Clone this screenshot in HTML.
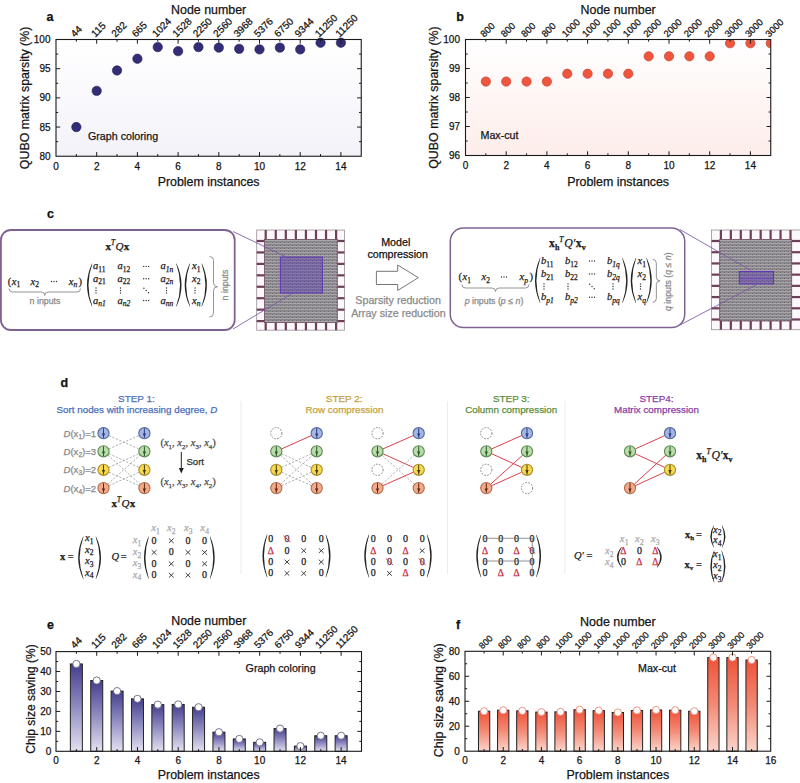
<!DOCTYPE html><html><head><meta charset="utf-8"><style>html,body{margin:0;padding:0;background:#fff;width:800px;height:783px;overflow:hidden}svg{display:block;font-family:"Liberation Sans",sans-serif}</style></head><body>
<svg width="800" height="783" viewBox="0 0 800 783">
<defs>
<linearGradient id="ga" x1="0" y1="0" x2="0" y2="1"><stop offset="0" stop-color="#ffffff"/><stop offset="1" stop-color="#f3f2f9"/></linearGradient>
<linearGradient id="gb" x1="0" y1="0" x2="0" y2="1"><stop offset="0" stop-color="#ffffff"/><stop offset="1" stop-color="#fdedea"/></linearGradient>
<linearGradient id="ge" x1="0" y1="0" x2="0" y2="1"><stop offset="0" stop-color="#ffffff"/><stop offset="1" stop-color="#ffffff"/></linearGradient>
<linearGradient id="barE" x1="0" y1="0" x2="0" y2="1"><stop offset="0" stop-color="#443e8c"/><stop offset="0.45" stop-color="#8985bd"/><stop offset="1" stop-color="#e3e1f1"/></linearGradient>
<linearGradient id="barF" x1="0" y1="0" x2="0" y2="1"><stop offset="0" stop-color="#ee5238"/><stop offset="0.5" stop-color="#f38a76"/><stop offset="1" stop-color="#fbd5cb"/></linearGradient>
<pattern id="chipPat" width="4" height="3" patternUnits="userSpaceOnUse"><rect width="4" height="3" fill="#8f8c8f"/><rect width="4" height="1" fill="#a9a6a8"/><rect x="0" y="2" width="1" height="1" fill="#6a6570"/><rect x="2" y="1" width="1" height="1" fill="#7b7580"/></pattern>
<clipPath id="clipb"><rect x="465.5" y="39.5" width="305.25" height="116"/></clipPath>
</defs>
<rect x="56" y="39.5" width="305.25" height="116.75" fill="url(#ga)"/>
<circle cx="76.35" cy="127.06" r="4.7" fill="#322d74" stroke="#252059" stroke-width="0.6"/>
<circle cx="96.7" cy="90.87" r="4.7" fill="#322d74" stroke="#252059" stroke-width="0.6"/>
<circle cx="117.05" cy="70.44" r="4.7" fill="#322d74" stroke="#252059" stroke-width="0.6"/>
<circle cx="137.4" cy="58.76" r="4.7" fill="#322d74" stroke="#252059" stroke-width="0.6"/>
<circle cx="157.75" cy="47.09" r="4.7" fill="#322d74" stroke="#252059" stroke-width="0.6"/>
<circle cx="178.1" cy="51.17" r="4.7" fill="#322d74" stroke="#252059" stroke-width="0.6"/>
<circle cx="198.45" cy="47.09" r="4.7" fill="#322d74" stroke="#252059" stroke-width="0.6"/>
<circle cx="218.8" cy="47.67" r="4.7" fill="#322d74" stroke="#252059" stroke-width="0.6"/>
<circle cx="239.15" cy="48.84" r="4.7" fill="#322d74" stroke="#252059" stroke-width="0.6"/>
<circle cx="259.5" cy="49.42" r="4.7" fill="#322d74" stroke="#252059" stroke-width="0.6"/>
<circle cx="279.85" cy="47.67" r="4.7" fill="#322d74" stroke="#252059" stroke-width="0.6"/>
<circle cx="300.2" cy="49.42" r="4.7" fill="#322d74" stroke="#252059" stroke-width="0.6"/>
<circle cx="320.55" cy="42.71" r="4.7" fill="#322d74" stroke="#252059" stroke-width="0.6"/>
<circle cx="340.9" cy="42.71" r="4.7" fill="#322d74" stroke="#252059" stroke-width="0.6"/>
<path d="M76.35 156.25v-2.2M76.35 39.5v2.2M96.7 156.25v-4.2M96.7 39.5v4.2M117.05 156.25v-2.2M117.05 39.5v2.2M137.4 156.25v-4.2M137.4 39.5v4.2M157.75 156.25v-2.2M157.75 39.5v2.2M178.1 156.25v-4.2M178.1 39.5v4.2M198.45 156.25v-2.2M198.45 39.5v2.2M218.8 156.25v-4.2M218.8 39.5v4.2M239.15 156.25v-2.2M239.15 39.5v2.2M259.5 156.25v-4.2M259.5 39.5v4.2M279.85 156.25v-2.2M279.85 39.5v2.2M300.2 156.25v-4.2M300.2 39.5v4.2M320.55 156.25v-2.2M320.55 39.5v2.2M340.9 156.25v-4.2M340.9 39.5v4.2M56 141.66h2.2M361.25 141.66h-2.2M56 127.06h4.2M361.25 127.06h-4.2M56 112.47h2.2M361.25 112.47h-2.2M56 97.88h4.2M361.25 97.88h-4.2M56 83.28h2.2M361.25 83.28h-2.2M56 68.69h4.2M361.25 68.69h-4.2M56 54.09h2.2M361.25 54.09h-2.2" stroke="#1a1a1a" stroke-width="1" fill="none"/><rect x="56" y="39.5" width="305.25" height="116.75" fill="none" stroke="#1a1a1a" stroke-width="1.1"/>
<text x="50.5" y="159.85" font-size="10" text-anchor="end" fill="#151515"  stroke="#151515" stroke-width="0.25">80</text>
<text x="50.5" y="130.66" font-size="10" text-anchor="end" fill="#151515"  stroke="#151515" stroke-width="0.25">85</text>
<text x="50.5" y="101.47" font-size="10" text-anchor="end" fill="#151515"  stroke="#151515" stroke-width="0.25">90</text>
<text x="50.5" y="72.29" font-size="10" text-anchor="end" fill="#151515"  stroke="#151515" stroke-width="0.25">95</text>
<text x="50.5" y="43.1" font-size="10" text-anchor="end" fill="#151515"  stroke="#151515" stroke-width="0.25">100</text>
<text x="56" y="169.65" font-size="10" text-anchor="middle" fill="#151515"  stroke="#151515" stroke-width="0.25">0</text>
<text x="96.7" y="169.65" font-size="10" text-anchor="middle" fill="#151515"  stroke="#151515" stroke-width="0.25">2</text>
<text x="137.4" y="169.65" font-size="10" text-anchor="middle" fill="#151515"  stroke="#151515" stroke-width="0.25">4</text>
<text x="178.1" y="169.65" font-size="10" text-anchor="middle" fill="#151515"  stroke="#151515" stroke-width="0.25">6</text>
<text x="218.8" y="169.65" font-size="10" text-anchor="middle" fill="#151515"  stroke="#151515" stroke-width="0.25">8</text>
<text x="259.5" y="169.65" font-size="10" text-anchor="middle" fill="#151515"  stroke="#151515" stroke-width="0.25">10</text>
<text x="300.2" y="169.65" font-size="10" text-anchor="middle" fill="#151515"  stroke="#151515" stroke-width="0.25">12</text>
<text x="340.9" y="169.65" font-size="10" text-anchor="middle" fill="#151515"  stroke="#151515" stroke-width="0.25">14</text>
<text x="74.85" y="37.7" font-size="10" fill="#151515" transform="rotate(-45 74.85 37.7)" stroke="#151515" stroke-width="0.25">44</text>
<text x="95.2" y="37.7" font-size="10" fill="#151515" transform="rotate(-45 95.2 37.7)" stroke="#151515" stroke-width="0.25">115</text>
<text x="115.55" y="37.7" font-size="10" fill="#151515" transform="rotate(-45 115.55 37.7)" stroke="#151515" stroke-width="0.25">282</text>
<text x="135.9" y="37.7" font-size="10" fill="#151515" transform="rotate(-45 135.9 37.7)" stroke="#151515" stroke-width="0.25">665</text>
<text x="156.25" y="37.7" font-size="10" fill="#151515" transform="rotate(-45 156.25 37.7)" stroke="#151515" stroke-width="0.25">1024</text>
<text x="176.6" y="37.7" font-size="10" fill="#151515" transform="rotate(-45 176.6 37.7)" stroke="#151515" stroke-width="0.25">1528</text>
<text x="196.95" y="37.7" font-size="10" fill="#151515" transform="rotate(-45 196.95 37.7)" stroke="#151515" stroke-width="0.25">2250</text>
<text x="217.3" y="37.7" font-size="10" fill="#151515" transform="rotate(-45 217.3 37.7)" stroke="#151515" stroke-width="0.25">2560</text>
<text x="237.65" y="37.7" font-size="10" fill="#151515" transform="rotate(-45 237.65 37.7)" stroke="#151515" stroke-width="0.25">3968</text>
<text x="258" y="37.7" font-size="10" fill="#151515" transform="rotate(-45 258 37.7)" stroke="#151515" stroke-width="0.25">5376</text>
<text x="278.35" y="37.7" font-size="10" fill="#151515" transform="rotate(-45 278.35 37.7)" stroke="#151515" stroke-width="0.25">6750</text>
<text x="298.7" y="37.7" font-size="10" fill="#151515" transform="rotate(-45 298.7 37.7)" stroke="#151515" stroke-width="0.25">9344</text>
<text x="319.05" y="37.7" font-size="10" fill="#151515" transform="rotate(-45 319.05 37.7)" stroke="#151515" stroke-width="0.25">11250</text>
<text x="339.4" y="37.7" font-size="10" fill="#151515" transform="rotate(-45 339.4 37.7)" stroke="#151515" stroke-width="0.25">11250</text>
<text x="208.62" y="13.5" font-size="12.4" text-anchor="middle" fill="#151515"  stroke="#151515" stroke-width="0.25">Node number</text>
<text x="208.62" y="186" font-size="12.4" text-anchor="middle" fill="#151515"  stroke="#151515" stroke-width="0.25">Problem instances</text>
<text x="29" y="97.88" font-size="12.4" text-anchor="middle" fill="#151515" transform="rotate(-90 29 97.88)" stroke="#151515" stroke-width="0.25">QUBO matrix sparsity (%)</text>
<text x="46.5" y="20.7" font-size="12.5" font-weight="bold" fill="#111" stroke="#111" stroke-width="0.25">a</text>
<text x="88" y="139.6" font-size="10.7" text-anchor="start" fill="#151515"  stroke="#151515" stroke-width="0.25">Graph coloring</text>
<rect x="465.5" y="39.5" width="305.25" height="116" fill="url(#gb)"/>
<g clip-path="url(#clipb)">
<circle cx="485.85" cy="81.55" r="4.6" fill="#f0553d" stroke="#c9493a" stroke-width="0.8"/>
<circle cx="506.2" cy="81.55" r="4.6" fill="#f0553d" stroke="#c9493a" stroke-width="0.8"/>
<circle cx="526.55" cy="81.55" r="4.6" fill="#f0553d" stroke="#c9493a" stroke-width="0.8"/>
<circle cx="546.9" cy="81.55" r="4.6" fill="#f0553d" stroke="#c9493a" stroke-width="0.8"/>
<circle cx="567.25" cy="73.72" r="4.6" fill="#f0553d" stroke="#c9493a" stroke-width="0.8"/>
<circle cx="587.6" cy="73.72" r="4.6" fill="#f0553d" stroke="#c9493a" stroke-width="0.8"/>
<circle cx="607.95" cy="73.72" r="4.6" fill="#f0553d" stroke="#c9493a" stroke-width="0.8"/>
<circle cx="628.3" cy="73.72" r="4.6" fill="#f0553d" stroke="#c9493a" stroke-width="0.8"/>
<circle cx="648.65" cy="56.32" r="4.6" fill="#f0553d" stroke="#c9493a" stroke-width="0.8"/>
<circle cx="669" cy="56.32" r="4.6" fill="#f0553d" stroke="#c9493a" stroke-width="0.8"/>
<circle cx="689.35" cy="56.32" r="4.6" fill="#f0553d" stroke="#c9493a" stroke-width="0.8"/>
<circle cx="709.7" cy="56.32" r="4.6" fill="#f0553d" stroke="#c9493a" stroke-width="0.8"/>
<circle cx="730.05" cy="43.27" r="4.6" fill="#f0553d" stroke="#c9493a" stroke-width="0.8"/>
<circle cx="750.4" cy="43.27" r="4.6" fill="#f0553d" stroke="#c9493a" stroke-width="0.8"/>
<circle cx="770.75" cy="43.27" r="4.6" fill="#f0553d" stroke="#c9493a" stroke-width="0.8"/>
</g>
<path d="M485.85 155.5v-2.2M485.85 39.5v2.2M506.2 155.5v-4.2M506.2 39.5v4.2M526.55 155.5v-2.2M526.55 39.5v2.2M546.9 155.5v-4.2M546.9 39.5v4.2M567.25 155.5v-2.2M567.25 39.5v2.2M587.6 155.5v-4.2M587.6 39.5v4.2M607.95 155.5v-2.2M607.95 39.5v2.2M628.3 155.5v-4.2M628.3 39.5v4.2M648.65 155.5v-2.2M648.65 39.5v2.2M669 155.5v-4.2M669 39.5v4.2M689.35 155.5v-2.2M689.35 39.5v2.2M709.7 155.5v-4.2M709.7 39.5v4.2M730.05 155.5v-2.2M730.05 39.5v2.2M750.4 155.5v-4.2M750.4 39.5v4.2M465.5 141h2.2M770.75 141h-2.2M465.5 126.5h4.2M770.75 126.5h-4.2M465.5 112h2.2M770.75 112h-2.2M465.5 97.5h4.2M770.75 97.5h-4.2M465.5 83h2.2M770.75 83h-2.2M465.5 68.5h4.2M770.75 68.5h-4.2M465.5 54h2.2M770.75 54h-2.2" stroke="#1a1a1a" stroke-width="1" fill="none"/><rect x="465.5" y="39.5" width="305.25" height="116" fill="none" stroke="#1a1a1a" stroke-width="1.1"/>
<text x="460" y="159.1" font-size="10" text-anchor="end" fill="#151515"  stroke="#151515" stroke-width="0.25">96</text>
<text x="460" y="130.1" font-size="10" text-anchor="end" fill="#151515"  stroke="#151515" stroke-width="0.25">97</text>
<text x="460" y="101.1" font-size="10" text-anchor="end" fill="#151515"  stroke="#151515" stroke-width="0.25">98</text>
<text x="460" y="72.1" font-size="10" text-anchor="end" fill="#151515"  stroke="#151515" stroke-width="0.25">99</text>
<text x="460" y="43.1" font-size="10" text-anchor="end" fill="#151515"  stroke="#151515" stroke-width="0.25">100</text>
<text x="465.5" y="168.9" font-size="10" text-anchor="middle" fill="#151515"  stroke="#151515" stroke-width="0.25">0</text>
<text x="506.2" y="168.9" font-size="10" text-anchor="middle" fill="#151515"  stroke="#151515" stroke-width="0.25">2</text>
<text x="546.9" y="168.9" font-size="10" text-anchor="middle" fill="#151515"  stroke="#151515" stroke-width="0.25">4</text>
<text x="587.6" y="168.9" font-size="10" text-anchor="middle" fill="#151515"  stroke="#151515" stroke-width="0.25">6</text>
<text x="628.3" y="168.9" font-size="10" text-anchor="middle" fill="#151515"  stroke="#151515" stroke-width="0.25">8</text>
<text x="669" y="168.9" font-size="10" text-anchor="middle" fill="#151515"  stroke="#151515" stroke-width="0.25">10</text>
<text x="709.7" y="168.9" font-size="10" text-anchor="middle" fill="#151515"  stroke="#151515" stroke-width="0.25">12</text>
<text x="750.4" y="168.9" font-size="10" text-anchor="middle" fill="#151515"  stroke="#151515" stroke-width="0.25">14</text>
<text x="484.35" y="37.7" font-size="9.5" fill="#151515" transform="rotate(-45 484.35 37.7)" stroke="#151515" stroke-width="0.25">800</text>
<text x="504.7" y="37.7" font-size="9.5" fill="#151515" transform="rotate(-45 504.7 37.7)" stroke="#151515" stroke-width="0.25">800</text>
<text x="525.05" y="37.7" font-size="9.5" fill="#151515" transform="rotate(-45 525.05 37.7)" stroke="#151515" stroke-width="0.25">800</text>
<text x="545.4" y="37.7" font-size="9.5" fill="#151515" transform="rotate(-45 545.4 37.7)" stroke="#151515" stroke-width="0.25">800</text>
<text x="565.75" y="37.7" font-size="9.5" fill="#151515" transform="rotate(-45 565.75 37.7)" stroke="#151515" stroke-width="0.25">1000</text>
<text x="586.1" y="37.7" font-size="9.5" fill="#151515" transform="rotate(-45 586.1 37.7)" stroke="#151515" stroke-width="0.25">1000</text>
<text x="606.45" y="37.7" font-size="9.5" fill="#151515" transform="rotate(-45 606.45 37.7)" stroke="#151515" stroke-width="0.25">1000</text>
<text x="626.8" y="37.7" font-size="9.5" fill="#151515" transform="rotate(-45 626.8 37.7)" stroke="#151515" stroke-width="0.25">1000</text>
<text x="647.15" y="37.7" font-size="9.5" fill="#151515" transform="rotate(-45 647.15 37.7)" stroke="#151515" stroke-width="0.25">2000</text>
<text x="667.5" y="37.7" font-size="9.5" fill="#151515" transform="rotate(-45 667.5 37.7)" stroke="#151515" stroke-width="0.25">2000</text>
<text x="687.85" y="37.7" font-size="9.5" fill="#151515" transform="rotate(-45 687.85 37.7)" stroke="#151515" stroke-width="0.25">2000</text>
<text x="708.2" y="37.7" font-size="9.5" fill="#151515" transform="rotate(-45 708.2 37.7)" stroke="#151515" stroke-width="0.25">2000</text>
<text x="728.55" y="37.7" font-size="9.5" fill="#151515" transform="rotate(-45 728.55 37.7)" stroke="#151515" stroke-width="0.25">3000</text>
<text x="748.9" y="37.7" font-size="9.5" fill="#151515" transform="rotate(-45 748.9 37.7)" stroke="#151515" stroke-width="0.25">3000</text>
<text x="769.25" y="37.7" font-size="9.5" fill="#151515" transform="rotate(-45 769.25 37.7)" stroke="#151515" stroke-width="0.25">3000</text>
<text x="618.12" y="13.5" font-size="12.4" text-anchor="middle" fill="#151515"  stroke="#151515" stroke-width="0.25">Node number</text>
<text x="618.12" y="186" font-size="12.4" text-anchor="middle" fill="#151515"  stroke="#151515" stroke-width="0.25">Problem instances</text>
<text x="438" y="97.5" font-size="12.4" text-anchor="middle" fill="#151515" transform="rotate(-90 438 97.5)" stroke="#151515" stroke-width="0.25">QUBO matrix sparsity (%)</text>
<text x="456.3" y="20.7" font-size="12.5" font-weight="bold" fill="#111" stroke="#111" stroke-width="0.25">b</text>
<text x="480.5" y="139.3" font-size="10.7" text-anchor="start" fill="#151515"  stroke="#151515" stroke-width="0.25">Max-cut</text>
<rect x="56" y="651.6" width="305.5" height="99.7" fill="url(#ge)"/>
<rect x="70.37" y="663.96" width="12" height="87.34" fill="url(#barE)" stroke="#222" stroke-width="1"/>
<rect x="90.73" y="680.51" width="12" height="70.79" fill="url(#barE)" stroke="#222" stroke-width="1"/>
<rect x="111.1" y="691.08" width="12" height="60.22" fill="url(#barE)" stroke="#222" stroke-width="1"/>
<rect x="131.47" y="698.86" width="12" height="52.44" fill="url(#barE)" stroke="#222" stroke-width="1"/>
<rect x="151.83" y="704.64" width="12" height="46.66" fill="url(#barE)" stroke="#222" stroke-width="1"/>
<rect x="172.2" y="704.44" width="12" height="46.86" fill="url(#barE)" stroke="#222" stroke-width="1"/>
<rect x="192.57" y="707.23" width="12" height="44.07" fill="url(#barE)" stroke="#222" stroke-width="1"/>
<rect x="212.93" y="732.16" width="12" height="19.14" fill="url(#barE)" stroke="#222" stroke-width="1"/>
<rect x="233.3" y="738.94" width="12" height="12.36" fill="url(#barE)" stroke="#222" stroke-width="1"/>
<rect x="253.67" y="742.33" width="12" height="8.97" fill="url(#barE)" stroke="#222" stroke-width="1"/>
<rect x="274.03" y="728.57" width="12" height="22.73" fill="url(#barE)" stroke="#222" stroke-width="1"/>
<rect x="294.4" y="746.12" width="12" height="5.18" fill="url(#barE)" stroke="#222" stroke-width="1"/>
<rect x="314.77" y="735.75" width="12" height="15.55" fill="url(#barE)" stroke="#222" stroke-width="1"/>
<rect x="335.13" y="735.75" width="12" height="15.55" fill="url(#barE)" stroke="#222" stroke-width="1"/>
<circle cx="76.37" cy="663.96" r="3.6" fill="#fff" stroke="#6a6780" stroke-width="0.9"/>
<circle cx="96.73" cy="680.51" r="3.6" fill="#fff" stroke="#6a6780" stroke-width="0.9"/>
<circle cx="117.1" cy="691.08" r="3.6" fill="#fff" stroke="#6a6780" stroke-width="0.9"/>
<circle cx="137.47" cy="698.86" r="3.6" fill="#fff" stroke="#6a6780" stroke-width="0.9"/>
<circle cx="157.83" cy="704.64" r="3.6" fill="#fff" stroke="#6a6780" stroke-width="0.9"/>
<circle cx="178.2" cy="704.44" r="3.6" fill="#fff" stroke="#6a6780" stroke-width="0.9"/>
<circle cx="198.57" cy="707.23" r="3.6" fill="#fff" stroke="#6a6780" stroke-width="0.9"/>
<circle cx="218.93" cy="732.16" r="3.6" fill="#fff" stroke="#6a6780" stroke-width="0.9"/>
<circle cx="239.3" cy="738.94" r="3.6" fill="#fff" stroke="#6a6780" stroke-width="0.9"/>
<circle cx="259.67" cy="742.33" r="3.6" fill="#fff" stroke="#6a6780" stroke-width="0.9"/>
<circle cx="280.03" cy="728.57" r="3.6" fill="#fff" stroke="#6a6780" stroke-width="0.9"/>
<circle cx="300.4" cy="746.12" r="3.6" fill="#fff" stroke="#6a6780" stroke-width="0.9"/>
<circle cx="320.77" cy="735.75" r="3.6" fill="#fff" stroke="#6a6780" stroke-width="0.9"/>
<circle cx="341.13" cy="735.75" r="3.6" fill="#fff" stroke="#6a6780" stroke-width="0.9"/>
<path d="M76.37 751.3v-2.2M76.37 651.6v2.2M96.73 751.3v-4.2M96.73 651.6v4.2M117.1 751.3v-2.2M117.1 651.6v2.2M137.47 751.3v-4.2M137.47 651.6v4.2M157.83 751.3v-2.2M157.83 651.6v2.2M178.2 751.3v-4.2M178.2 651.6v4.2M198.57 751.3v-2.2M198.57 651.6v2.2M218.93 751.3v-4.2M218.93 651.6v4.2M239.3 751.3v-2.2M239.3 651.6v2.2M259.67 751.3v-4.2M259.67 651.6v4.2M280.03 751.3v-2.2M280.03 651.6v2.2M300.4 751.3v-4.2M300.4 651.6v4.2M320.77 751.3v-2.2M320.77 651.6v2.2M341.13 751.3v-4.2M341.13 651.6v4.2M56 741.33h2.2M361.5 741.33h-2.2M56 731.36h4.2M361.5 731.36h-4.2M56 721.39h2.2M361.5 721.39h-2.2M56 711.42h4.2M361.5 711.42h-4.2M56 701.45h2.2M361.5 701.45h-2.2M56 691.48h4.2M361.5 691.48h-4.2M56 681.51h2.2M361.5 681.51h-2.2M56 671.54h4.2M361.5 671.54h-4.2M56 661.57h2.2M361.5 661.57h-2.2" stroke="#1a1a1a" stroke-width="1" fill="none"/><rect x="56" y="651.6" width="305.5" height="99.7" fill="none" stroke="#1a1a1a" stroke-width="1.1"/>
<text x="51.4" y="754.9" font-size="10" text-anchor="end" fill="#151515"  stroke="#151515" stroke-width="0.25">0</text>
<text x="51.4" y="734.96" font-size="10" text-anchor="end" fill="#151515"  stroke="#151515" stroke-width="0.25">10</text>
<text x="51.4" y="715.02" font-size="10" text-anchor="end" fill="#151515"  stroke="#151515" stroke-width="0.25">20</text>
<text x="51.4" y="695.08" font-size="10" text-anchor="end" fill="#151515"  stroke="#151515" stroke-width="0.25">30</text>
<text x="51.4" y="675.14" font-size="10" text-anchor="end" fill="#151515"  stroke="#151515" stroke-width="0.25">40</text>
<text x="51.4" y="655.2" font-size="10" text-anchor="end" fill="#151515"  stroke="#151515" stroke-width="0.25">50</text>
<text x="56" y="764.3" font-size="10" text-anchor="middle" fill="#151515"  stroke="#151515" stroke-width="0.25">0</text>
<text x="96.73" y="764.3" font-size="10" text-anchor="middle" fill="#151515"  stroke="#151515" stroke-width="0.25">2</text>
<text x="137.47" y="764.3" font-size="10" text-anchor="middle" fill="#151515"  stroke="#151515" stroke-width="0.25">4</text>
<text x="178.2" y="764.3" font-size="10" text-anchor="middle" fill="#151515"  stroke="#151515" stroke-width="0.25">6</text>
<text x="218.93" y="764.3" font-size="10" text-anchor="middle" fill="#151515"  stroke="#151515" stroke-width="0.25">8</text>
<text x="259.67" y="764.3" font-size="10" text-anchor="middle" fill="#151515"  stroke="#151515" stroke-width="0.25">10</text>
<text x="300.4" y="764.3" font-size="10" text-anchor="middle" fill="#151515"  stroke="#151515" stroke-width="0.25">12</text>
<text x="341.13" y="764.3" font-size="10" text-anchor="middle" fill="#151515"  stroke="#151515" stroke-width="0.25">14</text>
<text x="74.87" y="649" font-size="10" fill="#151515" transform="rotate(-45 74.87 649)" stroke="#151515" stroke-width="0.25">44</text>
<text x="95.23" y="649" font-size="10" fill="#151515" transform="rotate(-45 95.23 649)" stroke="#151515" stroke-width="0.25">115</text>
<text x="115.6" y="649" font-size="10" fill="#151515" transform="rotate(-45 115.6 649)" stroke="#151515" stroke-width="0.25">282</text>
<text x="135.97" y="649" font-size="10" fill="#151515" transform="rotate(-45 135.97 649)" stroke="#151515" stroke-width="0.25">665</text>
<text x="156.33" y="649" font-size="10" fill="#151515" transform="rotate(-45 156.33 649)" stroke="#151515" stroke-width="0.25">1024</text>
<text x="176.7" y="649" font-size="10" fill="#151515" transform="rotate(-45 176.7 649)" stroke="#151515" stroke-width="0.25">1528</text>
<text x="197.07" y="649" font-size="10" fill="#151515" transform="rotate(-45 197.07 649)" stroke="#151515" stroke-width="0.25">2250</text>
<text x="217.43" y="649" font-size="10" fill="#151515" transform="rotate(-45 217.43 649)" stroke="#151515" stroke-width="0.25">2560</text>
<text x="237.8" y="649" font-size="10" fill="#151515" transform="rotate(-45 237.8 649)" stroke="#151515" stroke-width="0.25">3968</text>
<text x="258.17" y="649" font-size="10" fill="#151515" transform="rotate(-45 258.17 649)" stroke="#151515" stroke-width="0.25">5376</text>
<text x="278.53" y="649" font-size="10" fill="#151515" transform="rotate(-45 278.53 649)" stroke="#151515" stroke-width="0.25">6750</text>
<text x="298.9" y="649" font-size="10" fill="#151515" transform="rotate(-45 298.9 649)" stroke="#151515" stroke-width="0.25">9344</text>
<text x="319.27" y="649" font-size="10" fill="#151515" transform="rotate(-45 319.27 649)" stroke="#151515" stroke-width="0.25">11250</text>
<text x="339.63" y="649" font-size="10" fill="#151515" transform="rotate(-45 339.63 649)" stroke="#151515" stroke-width="0.25">11250</text>
<text x="208.75" y="625" font-size="12.4" text-anchor="middle" fill="#151515"  stroke="#151515" stroke-width="0.25">Node number</text>
<text x="208.75" y="779" font-size="12.4" text-anchor="middle" fill="#151515"  stroke="#151515" stroke-width="0.25">Problem instances</text>
<text x="34.6" y="699" font-size="12" text-anchor="middle" fill="#151515" transform="rotate(-90 34.6 699)" stroke="#151515" stroke-width="0.25">Chip size saving (%)</text>
<text x="47" y="628.7" font-size="12.5" font-weight="bold" fill="#111" stroke="#111" stroke-width="0.25">e</text>
<text x="245.6" y="672" font-size="10.7" text-anchor="start" fill="#151515"  stroke="#151515" stroke-width="0.25">Graph coloring</text>
<rect x="465" y="651.3" width="305.7" height="99.9" fill="url(#ge)"/>
<rect x="478.46" y="711.24" width="11.3" height="39.96" fill="url(#barF)" stroke="#222" stroke-width="1"/>
<rect x="497.56" y="710.24" width="11.3" height="40.96" fill="url(#barF)" stroke="#222" stroke-width="1"/>
<rect x="516.67" y="710.87" width="11.3" height="40.33" fill="url(#barF)" stroke="#222" stroke-width="1"/>
<rect x="535.77" y="712.11" width="11.3" height="39.09" fill="url(#barF)" stroke="#222" stroke-width="1"/>
<rect x="554.88" y="711.86" width="11.3" height="39.34" fill="url(#barF)" stroke="#222" stroke-width="1"/>
<rect x="573.99" y="709.74" width="11.3" height="41.46" fill="url(#barF)" stroke="#222" stroke-width="1"/>
<rect x="593.09" y="710.62" width="11.3" height="40.58" fill="url(#barF)" stroke="#222" stroke-width="1"/>
<rect x="612.2" y="712.49" width="11.3" height="38.71" fill="url(#barF)" stroke="#222" stroke-width="1"/>
<rect x="631.31" y="710.49" width="11.3" height="40.71" fill="url(#barF)" stroke="#222" stroke-width="1"/>
<rect x="650.41" y="709.99" width="11.3" height="41.21" fill="url(#barF)" stroke="#222" stroke-width="1"/>
<rect x="669.52" y="710.24" width="11.3" height="40.96" fill="url(#barF)" stroke="#222" stroke-width="1"/>
<rect x="688.63" y="711.24" width="11.3" height="39.96" fill="url(#barF)" stroke="#222" stroke-width="1"/>
<rect x="707.73" y="657.54" width="11.3" height="93.66" fill="url(#barF)" stroke="#222" stroke-width="1"/>
<rect x="726.84" y="657.54" width="11.3" height="93.66" fill="url(#barF)" stroke="#222" stroke-width="1"/>
<rect x="745.94" y="660.04" width="11.3" height="91.16" fill="url(#barF)" stroke="#222" stroke-width="1"/>
<circle cx="484.11" cy="711.24" r="3.6" fill="#fff" stroke="#ea8a76" stroke-width="0.9"/>
<circle cx="503.21" cy="710.24" r="3.6" fill="#fff" stroke="#ea8a76" stroke-width="0.9"/>
<circle cx="522.32" cy="710.87" r="3.6" fill="#fff" stroke="#ea8a76" stroke-width="0.9"/>
<circle cx="541.42" cy="712.11" r="3.6" fill="#fff" stroke="#ea8a76" stroke-width="0.9"/>
<circle cx="560.53" cy="711.86" r="3.6" fill="#fff" stroke="#ea8a76" stroke-width="0.9"/>
<circle cx="579.64" cy="709.74" r="3.6" fill="#fff" stroke="#ea8a76" stroke-width="0.9"/>
<circle cx="598.74" cy="710.62" r="3.6" fill="#fff" stroke="#ea8a76" stroke-width="0.9"/>
<circle cx="617.85" cy="712.49" r="3.6" fill="#fff" stroke="#ea8a76" stroke-width="0.9"/>
<circle cx="636.96" cy="710.49" r="3.6" fill="#fff" stroke="#ea8a76" stroke-width="0.9"/>
<circle cx="656.06" cy="709.99" r="3.6" fill="#fff" stroke="#ea8a76" stroke-width="0.9"/>
<circle cx="675.17" cy="710.24" r="3.6" fill="#fff" stroke="#ea8a76" stroke-width="0.9"/>
<circle cx="694.28" cy="711.24" r="3.6" fill="#fff" stroke="#ea8a76" stroke-width="0.9"/>
<circle cx="713.38" cy="657.54" r="3.6" fill="#fff" stroke="#ea8a76" stroke-width="0.9"/>
<circle cx="732.49" cy="657.54" r="3.6" fill="#fff" stroke="#ea8a76" stroke-width="0.9"/>
<circle cx="751.59" cy="660.04" r="3.6" fill="#fff" stroke="#ea8a76" stroke-width="0.9"/>
<path d="M484.11 751.2v-2.2M484.11 651.3v2.2M503.21 751.2v-4.2M503.21 651.3v4.2M522.32 751.2v-2.2M522.32 651.3v2.2M541.42 751.2v-4.2M541.42 651.3v4.2M560.53 751.2v-2.2M560.53 651.3v2.2M579.64 751.2v-4.2M579.64 651.3v4.2M598.74 751.2v-2.2M598.74 651.3v2.2M617.85 751.2v-4.2M617.85 651.3v4.2M636.96 751.2v-2.2M636.96 651.3v2.2M656.06 751.2v-4.2M656.06 651.3v4.2M675.17 751.2v-2.2M675.17 651.3v2.2M694.28 751.2v-4.2M694.28 651.3v4.2M713.38 751.2v-2.2M713.38 651.3v2.2M732.49 751.2v-4.2M732.49 651.3v4.2M751.59 751.2v-2.2M751.59 651.3v2.2M465 738.71h2.2M770.7 738.71h-2.2M465 726.23h4.2M770.7 726.23h-4.2M465 713.74h2.2M770.7 713.74h-2.2M465 701.25h4.2M770.7 701.25h-4.2M465 688.76h2.2M770.7 688.76h-2.2M465 676.27h4.2M770.7 676.27h-4.2M465 663.79h2.2M770.7 663.79h-2.2" stroke="#1a1a1a" stroke-width="1" fill="none"/><rect x="465" y="651.3" width="305.7" height="99.9" fill="none" stroke="#1a1a1a" stroke-width="1.1"/>
<text x="459.8" y="754.8" font-size="10" text-anchor="end" fill="#151515"  stroke="#151515" stroke-width="0.25">0</text>
<text x="459.8" y="729.83" font-size="10" text-anchor="end" fill="#151515"  stroke="#151515" stroke-width="0.25">20</text>
<text x="459.8" y="704.85" font-size="10" text-anchor="end" fill="#151515"  stroke="#151515" stroke-width="0.25">40</text>
<text x="459.8" y="679.88" font-size="10" text-anchor="end" fill="#151515"  stroke="#151515" stroke-width="0.25">60</text>
<text x="459.8" y="654.9" font-size="10" text-anchor="end" fill="#151515"  stroke="#151515" stroke-width="0.25">80</text>
<text x="465" y="764.2" font-size="10" text-anchor="middle" fill="#151515"  stroke="#151515" stroke-width="0.25">0</text>
<text x="503.21" y="764.2" font-size="10" text-anchor="middle" fill="#151515"  stroke="#151515" stroke-width="0.25">2</text>
<text x="541.42" y="764.2" font-size="10" text-anchor="middle" fill="#151515"  stroke="#151515" stroke-width="0.25">4</text>
<text x="579.64" y="764.2" font-size="10" text-anchor="middle" fill="#151515"  stroke="#151515" stroke-width="0.25">6</text>
<text x="617.85" y="764.2" font-size="10" text-anchor="middle" fill="#151515"  stroke="#151515" stroke-width="0.25">8</text>
<text x="656.06" y="764.2" font-size="10" text-anchor="middle" fill="#151515"  stroke="#151515" stroke-width="0.25">10</text>
<text x="694.28" y="764.2" font-size="10" text-anchor="middle" fill="#151515"  stroke="#151515" stroke-width="0.25">12</text>
<text x="732.49" y="764.2" font-size="10" text-anchor="middle" fill="#151515"  stroke="#151515" stroke-width="0.25">14</text>
<text x="770.7" y="764.2" font-size="10" text-anchor="middle" fill="#151515"  stroke="#151515" stroke-width="0.25">16</text>
<text x="482.61" y="649.5" font-size="9" fill="#151515" transform="rotate(-45 482.61 649.5)" stroke="#151515" stroke-width="0.25">800</text>
<text x="501.71" y="649.5" font-size="9" fill="#151515" transform="rotate(-45 501.71 649.5)" stroke="#151515" stroke-width="0.25">800</text>
<text x="520.82" y="649.5" font-size="9" fill="#151515" transform="rotate(-45 520.82 649.5)" stroke="#151515" stroke-width="0.25">800</text>
<text x="539.92" y="649.5" font-size="9" fill="#151515" transform="rotate(-45 539.92 649.5)" stroke="#151515" stroke-width="0.25">800</text>
<text x="559.03" y="649.5" font-size="9" fill="#151515" transform="rotate(-45 559.03 649.5)" stroke="#151515" stroke-width="0.25">1000</text>
<text x="578.14" y="649.5" font-size="9" fill="#151515" transform="rotate(-45 578.14 649.5)" stroke="#151515" stroke-width="0.25">1000</text>
<text x="597.24" y="649.5" font-size="9" fill="#151515" transform="rotate(-45 597.24 649.5)" stroke="#151515" stroke-width="0.25">1000</text>
<text x="616.35" y="649.5" font-size="9" fill="#151515" transform="rotate(-45 616.35 649.5)" stroke="#151515" stroke-width="0.25">1000</text>
<text x="635.46" y="649.5" font-size="9" fill="#151515" transform="rotate(-45 635.46 649.5)" stroke="#151515" stroke-width="0.25">2000</text>
<text x="654.56" y="649.5" font-size="9" fill="#151515" transform="rotate(-45 654.56 649.5)" stroke="#151515" stroke-width="0.25">2000</text>
<text x="673.67" y="649.5" font-size="9" fill="#151515" transform="rotate(-45 673.67 649.5)" stroke="#151515" stroke-width="0.25">2000</text>
<text x="692.78" y="649.5" font-size="9" fill="#151515" transform="rotate(-45 692.78 649.5)" stroke="#151515" stroke-width="0.25">2000</text>
<text x="711.88" y="649.5" font-size="9" fill="#151515" transform="rotate(-45 711.88 649.5)" stroke="#151515" stroke-width="0.25">3000</text>
<text x="730.99" y="649.5" font-size="9" fill="#151515" transform="rotate(-45 730.99 649.5)" stroke="#151515" stroke-width="0.25">3000</text>
<text x="750.09" y="649.5" font-size="9" fill="#151515" transform="rotate(-45 750.09 649.5)" stroke="#151515" stroke-width="0.25">3000</text>
<text x="617.85" y="626" font-size="12.5" text-anchor="middle" fill="#151515"  stroke="#151515" stroke-width="0.25">Node number</text>
<text x="617.85" y="779" font-size="12.5" text-anchor="middle" fill="#151515"  stroke="#151515" stroke-width="0.25">Problem instances</text>
<text x="442.9" y="700.2" font-size="12.5" text-anchor="middle" fill="#151515" transform="rotate(-90 442.9 700.2)" stroke="#151515" stroke-width="0.25">Chip size saving (%)</text>
<text x="456" y="628.5" font-size="12.5" font-weight="bold" fill="#111" stroke="#111" stroke-width="0.25">f</text>
<text x="638" y="672" font-size="10.7" text-anchor="start" fill="#151515"  stroke="#151515" stroke-width="0.25">Max-cut</text>
<text x="47" y="217.5" font-size="12.5" font-weight="bold" fill="#111" stroke="#111" stroke-width="0.25">c</text><rect x="0.9" y="230" width="233.8" height="100" rx="10" fill="#fff" stroke="#7f6291" stroke-width="1.8"/><rect x="450.3" y="228.1" width="234.4" height="99.5" rx="13" fill="#fff" stroke="#7f6291" stroke-width="1.5"/><text x="105.4" y="249.5" font-size="11" fill="#1a1a1a" font-family="Liberation Serif" font-weight="bold" stroke="#1a1a1a" stroke-width="0.25">x<tspan font-size="7.2" dy="-4.4" font-style="italic" font-weight="normal">T</tspan><tspan font-size="11" dy="4.4" dx="0.6" font-style="italic" font-weight="normal">Q</tspan><tspan dx="0.3">x</tspan></text><text x="7.8" y="284.5" font-size="10.5" fill="#222" text-anchor="start" font-family="Liberation Serif"  stroke="#222" stroke-width="0.25">(</text><text x="11.7" y="284.5" font-size="10.5" fill="#222" font-family="Liberation Serif" font-style="italic" stroke="#222" stroke-width="0.25">x</text><text x="16.56" y="287.1" font-size="7.56" fill="#222" font-family="Liberation Serif"  stroke="#222" stroke-width="0.25">1</text><text x="30.5" y="284.5" font-size="10.5" fill="#222" font-family="Liberation Serif" font-style="italic" stroke="#222" stroke-width="0.25">x</text><text x="35.36" y="287.1" font-size="7.56" fill="#222" font-family="Liberation Serif"  stroke="#222" stroke-width="0.25">2</text><circle cx="51.5" cy="281.5" r="0.7" fill="#333"/><circle cx="54" cy="281.5" r="0.7" fill="#333"/><circle cx="56.5" cy="281.5" r="0.7" fill="#333"/><text x="68.7" y="284.5" font-size="10.5" fill="#222" font-family="Liberation Serif" font-style="italic" stroke="#222" stroke-width="0.25">x</text><text x="73.56" y="287.1" font-size="7.56" fill="#222" font-family="Liberation Serif" font-style="italic" stroke="#222" stroke-width="0.25">n</text><text x="78.4" y="284.5" font-size="10.5" fill="#222" text-anchor="start" font-family="Liberation Serif"  stroke="#222" stroke-width="0.25">)</text><path d="M9 288.5Q9 292 12.5 292L41.25 292Q44.75 292 44.75 295.5Q44.75 292 48.25 292L77 292Q80.5 292 80.5 288.5" stroke="#888" stroke-width="0.9" fill="none"/><text x="45" y="304.4" font-size="8.8" fill="#8a8a8a" text-anchor="middle"   stroke="#8a8a8a" stroke-width="0.25">n inputs</text><path d="M92 263.5Q82 285 92 306.5L92.35 306.3Q84.55 285 92.35 263.7Z" fill="#222"/><path d="M176.5 263.5Q186.5 285 176.5 306.5L176.15 306.3Q183.95 285 176.15 263.7Z" fill="#222"/><text x="93.1" y="269.4" font-size="10.5" fill="#222" font-family="Liberation Serif" font-style="italic" stroke="#222" stroke-width="0.25">a<tspan font-size="7.5" dy="2.6" font-style="normal">11</tspan></text><text x="117.6" y="269.4" font-size="10.5" fill="#222" font-family="Liberation Serif" font-style="italic" stroke="#222" stroke-width="0.25">a<tspan font-size="7.5" dy="2.6" font-style="normal">12</tspan></text><circle cx="143.7" cy="266.4" r="0.7" fill="#333"/><circle cx="146.2" cy="266.4" r="0.7" fill="#333"/><circle cx="148.7" cy="266.4" r="0.7" fill="#333"/><text x="160.5" y="269.4" font-size="10.5" fill="#222" font-family="Liberation Serif" font-style="italic" stroke="#222" stroke-width="0.25">a<tspan font-size="7.5" dy="2.6" font-style="italic">1n</tspan></text><text x="93.1" y="281.8" font-size="10.5" fill="#222" font-family="Liberation Serif" font-style="italic" stroke="#222" stroke-width="0.25">a<tspan font-size="7.5" dy="2.6" font-style="normal">21</tspan></text><text x="117.6" y="281.8" font-size="10.5" fill="#222" font-family="Liberation Serif" font-style="italic" stroke="#222" stroke-width="0.25">a<tspan font-size="7.5" dy="2.6" font-style="normal">22</tspan></text><circle cx="143.7" cy="278.8" r="0.7" fill="#333"/><circle cx="146.2" cy="278.8" r="0.7" fill="#333"/><circle cx="148.7" cy="278.8" r="0.7" fill="#333"/><text x="160.5" y="281.8" font-size="10.5" fill="#222" font-family="Liberation Serif" font-style="italic" stroke="#222" stroke-width="0.25">a<tspan font-size="7.5" dy="2.6" font-style="italic">2n</tspan></text><text x="93.1" y="303.5" font-size="10.5" fill="#222" font-family="Liberation Serif" font-style="italic" stroke="#222" stroke-width="0.25">a<tspan font-size="7.5" dy="2.6" font-style="italic">n1</tspan></text><text x="117.6" y="303.5" font-size="10.5" fill="#222" font-family="Liberation Serif" font-style="italic" stroke="#222" stroke-width="0.25">a<tspan font-size="7.5" dy="2.6" font-style="italic">n2</tspan></text><circle cx="143.7" cy="300.5" r="0.7" fill="#333"/><circle cx="146.2" cy="300.5" r="0.7" fill="#333"/><circle cx="148.7" cy="300.5" r="0.7" fill="#333"/><text x="160.5" y="303.5" font-size="10.5" fill="#222" font-family="Liberation Serif" font-style="italic" stroke="#222" stroke-width="0.25">a<tspan font-size="7.5" dy="2.6" font-style="italic">nn</tspan></text><circle cx="96" cy="288" r="0.7" fill="#333"/><circle cx="96" cy="290.5" r="0.7" fill="#333"/><circle cx="96" cy="293" r="0.7" fill="#333"/><circle cx="120.5" cy="288" r="0.7" fill="#333"/><circle cx="120.5" cy="290.5" r="0.7" fill="#333"/><circle cx="120.5" cy="293" r="0.7" fill="#333"/><circle cx="143.9" cy="288.2" r="0.7" fill="#333"/><circle cx="146.2" cy="290.5" r="0.7" fill="#333"/><circle cx="148.5" cy="292.8" r="0.7" fill="#333"/><circle cx="166.5" cy="288" r="0.7" fill="#333"/><circle cx="166.5" cy="290.5" r="0.7" fill="#333"/><circle cx="166.5" cy="293" r="0.7" fill="#333"/><path d="M189.7 263.5Q179.7 285 189.7 306.5L190.05 306.3Q182.25 285 190.05 263.7Z" fill="#222"/><path d="M201.9 263.5Q211.9 285 201.9 306.5L201.55 306.3Q209.35 285 201.55 263.7Z" fill="#222"/><text x="192" y="269.4" font-size="10.5" fill="#222" font-family="Liberation Serif" font-style="italic" stroke="#222" stroke-width="0.25">x</text><text x="196.86" y="272" font-size="7.56" fill="#222" font-family="Liberation Serif"  stroke="#222" stroke-width="0.25">1</text><text x="192" y="281.8" font-size="10.5" fill="#222" font-family="Liberation Serif" font-style="italic" stroke="#222" stroke-width="0.25">x</text><text x="196.86" y="284.4" font-size="7.56" fill="#222" font-family="Liberation Serif"  stroke="#222" stroke-width="0.25">2</text><circle cx="195" cy="288" r="0.7" fill="#333"/><circle cx="195" cy="290.5" r="0.7" fill="#333"/><circle cx="195" cy="293" r="0.7" fill="#333"/><text x="192" y="303.5" font-size="10.5" fill="#222" font-family="Liberation Serif" font-style="italic" stroke="#222" stroke-width="0.25">x</text><text x="196.86" y="306.1" font-size="7.56" fill="#222" font-family="Liberation Serif" font-style="italic" stroke="#222" stroke-width="0.25">n</text><path d="M209.5 256.5Q213.5 256.5 213.5 260.5L213.5 282.75Q213.5 286.75 217.5 286.75Q213.5 286.75 213.5 290.75L213.5 313Q213.5 317 209.5 317" stroke="#888" stroke-width="0.9" fill="none"/><text x="224.5" y="285" font-size="8.8" fill="#8a8a8a" text-anchor="middle" transform="rotate(-90 224.5 285)" dy="3" stroke="#8a8a8a" stroke-width="0.25">n inputs</text><rect x="256.7" y="230" width="87.8" height="100.2" fill="#fbf7fa" stroke="#9a9096" stroke-width="0.8"/><rect x="264.6" y="230" width="2.2" height="9.5" fill="#6e3f58"/><rect x="264.6" y="322.6" width="2.2" height="7.6" fill="#6e3f58"/><rect x="274.66" y="230" width="2.2" height="9.5" fill="#6e3f58"/><rect x="274.66" y="322.6" width="2.2" height="7.6" fill="#6e3f58"/><rect x="284.71" y="230" width="2.2" height="9.5" fill="#6e3f58"/><rect x="284.71" y="322.6" width="2.2" height="7.6" fill="#6e3f58"/><rect x="294.77" y="230" width="2.2" height="9.5" fill="#6e3f58"/><rect x="294.77" y="322.6" width="2.2" height="7.6" fill="#6e3f58"/><rect x="304.83" y="230" width="2.2" height="9.5" fill="#6e3f58"/><rect x="304.83" y="322.6" width="2.2" height="7.6" fill="#6e3f58"/><rect x="314.89" y="230" width="2.2" height="9.5" fill="#6e3f58"/><rect x="314.89" y="322.6" width="2.2" height="7.6" fill="#6e3f58"/><rect x="324.94" y="230" width="2.2" height="9.5" fill="#6e3f58"/><rect x="324.94" y="322.6" width="2.2" height="7.6" fill="#6e3f58"/><rect x="335" y="230" width="2.2" height="9.5" fill="#6e3f58"/><rect x="335" y="322.6" width="2.2" height="7.6" fill="#6e3f58"/><rect x="256.7" y="239.9" width="7.8" height="2.2" fill="#6e3f58"/><rect x="337.3" y="239.9" width="7.2" height="2.2" fill="#6e3f58"/><rect x="256.7" y="251.34" width="7.8" height="2.2" fill="#6e3f58"/><rect x="337.3" y="251.34" width="7.2" height="2.2" fill="#6e3f58"/><rect x="256.7" y="262.79" width="7.8" height="2.2" fill="#6e3f58"/><rect x="337.3" y="262.79" width="7.2" height="2.2" fill="#6e3f58"/><rect x="256.7" y="274.23" width="7.8" height="2.2" fill="#6e3f58"/><rect x="337.3" y="274.23" width="7.2" height="2.2" fill="#6e3f58"/><rect x="256.7" y="285.67" width="7.8" height="2.2" fill="#6e3f58"/><rect x="337.3" y="285.67" width="7.2" height="2.2" fill="#6e3f58"/><rect x="256.7" y="297.11" width="7.8" height="2.2" fill="#6e3f58"/><rect x="337.3" y="297.11" width="7.2" height="2.2" fill="#6e3f58"/><rect x="256.7" y="308.56" width="7.8" height="2.2" fill="#6e3f58"/><rect x="337.3" y="308.56" width="7.2" height="2.2" fill="#6e3f58"/><rect x="256.7" y="320" width="7.8" height="2.2" fill="#6e3f58"/><rect x="337.3" y="320" width="7.2" height="2.2" fill="#6e3f58"/><rect x="264.5" y="239.5" width="72.8" height="83.1" fill="url(#chipPat)" stroke="#6d4a5c" stroke-width="0.8"/><rect x="280.4" y="257.1" width="42" height="35.9" fill="#5a3cb0" fill-opacity="0.45" stroke="#5f36b8" stroke-width="1"/><rect x="711.6" y="230" width="89.9" height="99.7" fill="#fbf7fa" stroke="#9a9096" stroke-width="0.8"/><rect x="719.8" y="230" width="2.2" height="9.5" fill="#6e3f58"/><rect x="719.8" y="321" width="2.2" height="8.7" fill="#6e3f58"/><rect x="729.74" y="230" width="2.2" height="9.5" fill="#6e3f58"/><rect x="729.74" y="321" width="2.2" height="8.7" fill="#6e3f58"/><rect x="739.69" y="230" width="2.2" height="9.5" fill="#6e3f58"/><rect x="739.69" y="321" width="2.2" height="8.7" fill="#6e3f58"/><rect x="749.63" y="230" width="2.2" height="9.5" fill="#6e3f58"/><rect x="749.63" y="321" width="2.2" height="8.7" fill="#6e3f58"/><rect x="759.57" y="230" width="2.2" height="9.5" fill="#6e3f58"/><rect x="759.57" y="321" width="2.2" height="8.7" fill="#6e3f58"/><rect x="769.51" y="230" width="2.2" height="9.5" fill="#6e3f58"/><rect x="769.51" y="321" width="2.2" height="8.7" fill="#6e3f58"/><rect x="779.46" y="230" width="2.2" height="9.5" fill="#6e3f58"/><rect x="779.46" y="321" width="2.2" height="8.7" fill="#6e3f58"/><rect x="789.4" y="230" width="2.2" height="9.5" fill="#6e3f58"/><rect x="789.4" y="321" width="2.2" height="8.7" fill="#6e3f58"/><rect x="711.6" y="239.9" width="8.1" height="2.2" fill="#6e3f58"/><rect x="791.7" y="239.9" width="9.8" height="2.2" fill="#6e3f58"/><rect x="711.6" y="251.11" width="8.1" height="2.2" fill="#6e3f58"/><rect x="791.7" y="251.11" width="9.8" height="2.2" fill="#6e3f58"/><rect x="711.6" y="262.33" width="8.1" height="2.2" fill="#6e3f58"/><rect x="791.7" y="262.33" width="9.8" height="2.2" fill="#6e3f58"/><rect x="711.6" y="273.54" width="8.1" height="2.2" fill="#6e3f58"/><rect x="791.7" y="273.54" width="9.8" height="2.2" fill="#6e3f58"/><rect x="711.6" y="284.76" width="8.1" height="2.2" fill="#6e3f58"/><rect x="791.7" y="284.76" width="9.8" height="2.2" fill="#6e3f58"/><rect x="711.6" y="295.97" width="8.1" height="2.2" fill="#6e3f58"/><rect x="791.7" y="295.97" width="9.8" height="2.2" fill="#6e3f58"/><rect x="711.6" y="307.19" width="8.1" height="2.2" fill="#6e3f58"/><rect x="791.7" y="307.19" width="9.8" height="2.2" fill="#6e3f58"/><rect x="711.6" y="318.4" width="8.1" height="2.2" fill="#6e3f58"/><rect x="791.7" y="318.4" width="9.8" height="2.2" fill="#6e3f58"/><rect x="719.7" y="239.5" width="72" height="81.5" fill="url(#chipPat)" stroke="#6d4a5c" stroke-width="0.8"/><rect x="739.3" y="271.5" width="34.2" height="12.4" fill="#5a3cb0" fill-opacity="0.45" stroke="#5f36b8" stroke-width="1"/><path d="M739.3 278.7H773.5" stroke="#6a3fc0" stroke-width="0.8"/><path d="M233 231.5L287 257.4M233 329L292 293.5" stroke="#7b5aa6" stroke-width="1" opacity="0.85"/><path d="M680 229.6L751 270.5M680 325L757 284.5" stroke="#7b5aa6" stroke-width="1" opacity="0.85"/><text x="395.7" y="245.5" font-size="10.7" fill="#111" text-anchor="middle"   stroke="#111" stroke-width="0.25">Model</text><text x="397.7" y="258.2" font-size="10.7" fill="#111" text-anchor="middle"   stroke="#111" stroke-width="0.25">compression</text><path d="M376.4 271.3H397.7V265L418.3 277.7L397.7 290.5V284.5H376.4Z" fill="#fff" stroke="#666" stroke-width="0.9"/><text x="398.1" y="304.3" font-size="10.7" fill="#8a8a8a" text-anchor="middle"   stroke="#8a8a8a" stroke-width="0.25">Sparsity reduction</text><text x="398.4" y="317.2" font-size="10.7" fill="#8a8a8a" text-anchor="middle"   stroke="#8a8a8a" stroke-width="0.25">Array size reduction</text><text x="549" y="247.3" font-size="11.8" fill="#1a1a1a" font-family="Liberation Serif" font-weight="bold" stroke="#1a1a1a" stroke-width="0.25">x<tspan font-size="8" dy="2.6">h</tspan><tspan font-size="7.5" dy="-8" font-style="italic" font-weight="normal">T</tspan><tspan font-size="11.8" dy="5.4" dx="0.8" font-style="italic" font-weight="normal">Q′</tspan><tspan dx="0.3">x</tspan><tspan font-size="8" dy="2.6">v</tspan></text><text x="458.6" y="280" font-size="10.5" fill="#222" text-anchor="start" font-family="Liberation Serif"  stroke="#222" stroke-width="0.25">(</text><text x="462.5" y="280" font-size="10.5" fill="#222" font-family="Liberation Serif" font-style="italic" stroke="#222" stroke-width="0.25">x</text><text x="467.36" y="282.6" font-size="7.56" fill="#222" font-family="Liberation Serif"  stroke="#222" stroke-width="0.25">1</text><text x="481.5" y="280" font-size="10.5" fill="#222" font-family="Liberation Serif" font-style="italic" stroke="#222" stroke-width="0.25">x</text><text x="486.36" y="282.6" font-size="7.56" fill="#222" font-family="Liberation Serif"  stroke="#222" stroke-width="0.25">2</text><circle cx="501.5" cy="277" r="0.7" fill="#333"/><circle cx="504" cy="277" r="0.7" fill="#333"/><circle cx="506.5" cy="277" r="0.7" fill="#333"/><text x="519.5" y="280" font-size="10.5" fill="#222" font-family="Liberation Serif" font-style="italic" stroke="#222" stroke-width="0.25">x</text><text x="524.36" y="282.6" font-size="7.56" fill="#222" font-family="Liberation Serif" font-style="italic" stroke="#222" stroke-width="0.25">p</text><text x="529.5" y="280" font-size="10.5" fill="#222" text-anchor="start" font-family="Liberation Serif"  stroke="#222" stroke-width="0.25">)</text><path d="M462 284.5Q462 288 465.5 288L492 288Q495.5 288 495.5 291.5Q495.5 288 499 288L525.5 288Q529 288 529 284.5" stroke="#888" stroke-width="0.9" fill="none"/><text x="494" y="304" font-size="8.8" fill="#8a8a8a" text-anchor="middle" stroke="#8a8a8a" stroke-width="0.25"><tspan font-style="italic">p</tspan> inputs (<tspan font-style="italic">p</tspan> ≤ <tspan font-style="italic">n</tspan>)</text><path d="M540 258Q530 280.5 540 303L540.35 302.8Q532.55 280.5 540.35 258.2Z" fill="#222"/><path d="M622.6 258Q632.6 280.5 622.6 303L622.25 302.8Q630.05 280.5 622.25 258.2Z" fill="#222"/><text x="541" y="264" font-size="10.5" fill="#222" font-family="Liberation Serif" font-style="italic" stroke="#222" stroke-width="0.25">b<tspan font-size="7.5" dy="2.6" font-style="normal">11</tspan></text><text x="565" y="264" font-size="10.5" fill="#222" font-family="Liberation Serif" font-style="italic" stroke="#222" stroke-width="0.25">b<tspan font-size="7.5" dy="2.6" font-style="normal">12</tspan></text><circle cx="589.5" cy="261" r="0.7" fill="#333"/><circle cx="592" cy="261" r="0.7" fill="#333"/><circle cx="594.5" cy="261" r="0.7" fill="#333"/><text x="607.1" y="264" font-size="10.5" fill="#222" font-family="Liberation Serif" font-style="italic" stroke="#222" stroke-width="0.25">b<tspan font-size="7.5" dy="2.6" font-style="italic">1q</tspan></text><text x="541" y="277" font-size="10.5" fill="#222" font-family="Liberation Serif" font-style="italic" stroke="#222" stroke-width="0.25">b<tspan font-size="7.5" dy="2.6" font-style="normal">21</tspan></text><text x="565" y="277" font-size="10.5" fill="#222" font-family="Liberation Serif" font-style="italic" stroke="#222" stroke-width="0.25">b<tspan font-size="7.5" dy="2.6" font-style="normal">22</tspan></text><circle cx="589.5" cy="274" r="0.7" fill="#333"/><circle cx="592" cy="274" r="0.7" fill="#333"/><circle cx="594.5" cy="274" r="0.7" fill="#333"/><text x="607.1" y="277" font-size="10.5" fill="#222" font-family="Liberation Serif" font-style="italic" stroke="#222" stroke-width="0.25">b<tspan font-size="7.5" dy="2.6" font-style="italic">2q</tspan></text><text x="541" y="300.3" font-size="10.5" fill="#222" font-family="Liberation Serif" font-style="italic" stroke="#222" stroke-width="0.25">b<tspan font-size="7.5" dy="2.6" font-style="italic">p1</tspan></text><text x="565" y="300.3" font-size="10.5" fill="#222" font-family="Liberation Serif" font-style="italic" stroke="#222" stroke-width="0.25">b<tspan font-size="7.5" dy="2.6" font-style="italic">p2</tspan></text><circle cx="589.5" cy="297.3" r="0.7" fill="#333"/><circle cx="592" cy="297.3" r="0.7" fill="#333"/><circle cx="594.5" cy="297.3" r="0.7" fill="#333"/><text x="607.1" y="300.3" font-size="10.5" fill="#222" font-family="Liberation Serif" font-style="italic" stroke="#222" stroke-width="0.25">b<tspan font-size="7.5" dy="2.6" font-style="italic">pq</tspan></text><circle cx="544" cy="284" r="0.7" fill="#333"/><circle cx="544" cy="286.5" r="0.7" fill="#333"/><circle cx="544" cy="289" r="0.7" fill="#333"/><circle cx="568" cy="284" r="0.7" fill="#333"/><circle cx="568" cy="286.5" r="0.7" fill="#333"/><circle cx="568" cy="289" r="0.7" fill="#333"/><circle cx="589.7" cy="284.2" r="0.7" fill="#333"/><circle cx="592" cy="286.5" r="0.7" fill="#333"/><circle cx="594.3" cy="288.8" r="0.7" fill="#333"/><circle cx="613" cy="284" r="0.7" fill="#333"/><circle cx="613" cy="286.5" r="0.7" fill="#333"/><circle cx="613" cy="289" r="0.7" fill="#333"/><path d="M635.75 258Q625.75 280.5 635.75 303L636.1 302.8Q628.3 280.5 636.1 258.2Z" fill="#222"/><path d="M646.75 258Q656.75 280.5 646.75 303L646.4 302.8Q654.2 280.5 646.4 258.2Z" fill="#222"/><text x="637.5" y="264" font-size="10.5" fill="#222" font-family="Liberation Serif" font-style="italic" stroke="#222" stroke-width="0.25">x</text><text x="642.36" y="266.6" font-size="7.56" fill="#222" font-family="Liberation Serif"  stroke="#222" stroke-width="0.25">1</text><text x="637.5" y="277" font-size="10.5" fill="#222" font-family="Liberation Serif" font-style="italic" stroke="#222" stroke-width="0.25">x</text><text x="642.36" y="279.6" font-size="7.56" fill="#222" font-family="Liberation Serif"  stroke="#222" stroke-width="0.25">2</text><circle cx="640.5" cy="284" r="0.7" fill="#333"/><circle cx="640.5" cy="286.5" r="0.7" fill="#333"/><circle cx="640.5" cy="289" r="0.7" fill="#333"/><text x="637.5" y="300.3" font-size="10.5" fill="#222" font-family="Liberation Serif" font-style="italic" stroke="#222" stroke-width="0.25">x</text><text x="642.36" y="302.9" font-size="7.56" fill="#222" font-family="Liberation Serif" font-style="italic" stroke="#222" stroke-width="0.25">q</text><path d="M652.6 259.4Q656.35 259.4 656.35 263.15L656.35 277.1Q656.35 280.85 660.1 280.85Q656.35 280.85 656.35 284.6L656.35 298.55Q656.35 302.3 652.6 302.3" stroke="#888" stroke-width="0.9" fill="none"/><text x="668.5" y="281.7" font-size="8.8" fill="#8a8a8a" text-anchor="middle" dy="3" transform="rotate(-90 668.5 281.7)" stroke="#8a8a8a" stroke-width="0.25"><tspan font-style="italic">q</tspan> inputs (<tspan font-style="italic">q</tspan> ≤ <tspan font-style="italic">n</tspan>)</text>
<text x="60.5" y="386.9" font-size="12.5" font-weight="bold" fill="#111" stroke="#111" stroke-width="0.25">d</text><text x="136.4" y="401.8" font-size="9.9" fill="#4d70b8" text-anchor="middle"   stroke="#4d70b8" stroke-width="0.25">STEP 1:</text><text x="136.9" y="413" font-size="9.8" fill="#4d70b8" text-anchor="middle" stroke="#4d70b8" stroke-width="0.25">Sort nodes with increasing degree, <tspan font-style="italic">D</tspan></text><text x="344.1" y="401.8" font-size="9.9" fill="#c4a23e" text-anchor="middle"   stroke="#c4a23e" stroke-width="0.25">STEP 2:</text><text x="344.4" y="412.8" font-size="9.8" fill="#c4a23e" text-anchor="middle"   stroke="#c4a23e" stroke-width="0.25">Row compression</text><text x="511.3" y="401.8" font-size="9.9" fill="#5a8e3e" text-anchor="middle"   stroke="#5a8e3e" stroke-width="0.25">STEP 3:</text><text x="511.2" y="412.6" font-size="9.8" fill="#5a8e3e" text-anchor="middle"   stroke="#5a8e3e" stroke-width="0.25">Column compression</text><text x="656.5" y="401.8" font-size="9.9" fill="#8a40a6" text-anchor="middle"   stroke="#8a40a6" stroke-width="0.25">STEP4:</text><text x="656.5" y="412.6" font-size="9.8" fill="#8a40a6" text-anchor="middle"   stroke="#8a40a6" stroke-width="0.25">Matrix compression</text><path d="M241 401V574" stroke="#ececec" stroke-width="1"/><path d="M447.5 401V574" stroke="#ececec" stroke-width="1"/><path d="M565 401V574" stroke="#ececec" stroke-width="1"/><path d="M108.9 435.59L139 448.91" stroke="#999" stroke-width="0.8" stroke-dasharray="2.2 1.6"/><path d="M108.9 448.91L139 435.59" stroke="#999" stroke-width="0.8" stroke-dasharray="2.2 1.6"/><path d="M108.88 453.73L139.02 467.37" stroke="#999" stroke-width="0.8" stroke-dasharray="2.2 1.6"/><path d="M107.89 455.25L140.01 484.15" stroke="#999" stroke-width="0.8" stroke-dasharray="2.2 1.6"/><path d="M108.88 467.37L139.02 453.73" stroke="#999" stroke-width="0.8" stroke-dasharray="2.2 1.6"/><path d="M108.89 472.21L139.01 485.69" stroke="#999" stroke-width="0.8" stroke-dasharray="2.2 1.6"/><path d="M107.89 484.15L140.01 455.25" stroke="#999" stroke-width="0.8" stroke-dasharray="2.2 1.6"/><path d="M108.89 485.69L139.01 472.21" stroke="#999" stroke-width="0.8" stroke-dasharray="2.2 1.6"/><circle cx="103.5" cy="433.2" r="5.6000000000000005" fill="#a3b6e4" stroke="#56689c" stroke-width="1.1"/><path d="M103.5 428.3V437.9" stroke="#2c3f80" stroke-width="1"/><path d="M101.8 433.5L105.2 433.5L103.5 437.2Z" fill="#2c3f80"/><circle cx="103.5" cy="451.3" r="5.6000000000000005" fill="#b9dcaa" stroke="#5e8a52" stroke-width="1.1"/><path d="M103.5 446.4V456" stroke="#2f5a2a" stroke-width="1"/><path d="M101.8 451.6L105.2 451.6L103.5 455.3Z" fill="#2f5a2a"/><circle cx="103.5" cy="469.8" r="5.6000000000000005" fill="#f6d94e" stroke="#a88d2a" stroke-width="1.1"/><path d="M103.5 464.9V474.5" stroke="#4a3a10" stroke-width="1"/><path d="M101.8 470.1L105.2 470.1L103.5 473.8Z" fill="#4a3a10"/><circle cx="103.5" cy="488.1" r="5.6000000000000005" fill="#f2aa88" stroke="#b06a4a" stroke-width="1.1"/><path d="M103.5 483.2V492.8" stroke="#5a2a18" stroke-width="1"/><path d="M101.8 488.4L105.2 488.4L103.5 492.1Z" fill="#5a2a18"/><circle cx="144.4" cy="433.2" r="5.6000000000000005" fill="#a3b6e4" stroke="#56689c" stroke-width="1.1"/><path d="M144.4 428.3V437.9" stroke="#2c3f80" stroke-width="1"/><path d="M142.7 433.5L146.1 433.5L144.4 437.2Z" fill="#2c3f80"/><circle cx="144.4" cy="451.3" r="5.6000000000000005" fill="#b9dcaa" stroke="#5e8a52" stroke-width="1.1"/><path d="M144.4 446.4V456" stroke="#2f5a2a" stroke-width="1"/><path d="M142.7 451.6L146.1 451.6L144.4 455.3Z" fill="#2f5a2a"/><circle cx="144.4" cy="469.8" r="5.6000000000000005" fill="#f6d94e" stroke="#a88d2a" stroke-width="1.1"/><path d="M144.4 464.9V474.5" stroke="#4a3a10" stroke-width="1"/><path d="M142.7 470.1L146.1 470.1L144.4 473.8Z" fill="#4a3a10"/><circle cx="144.4" cy="488.1" r="5.6000000000000005" fill="#f2aa88" stroke="#b06a4a" stroke-width="1.1"/><path d="M144.4 483.2V492.8" stroke="#5a2a18" stroke-width="1"/><path d="M142.7 488.4L146.1 488.4L144.4 492.1Z" fill="#5a2a18"/><text x="96" y="436.8" font-size="9.5" fill="#888" text-anchor="end" stroke="#888" stroke-width="0.25"><tspan font-style="italic">D</tspan>(x<tspan font-size="6.5" dy="2">1</tspan><tspan dy="-2">)=1</tspan></text><text x="96" y="454.9" font-size="9.5" fill="#888" text-anchor="end" stroke="#888" stroke-width="0.25"><tspan font-style="italic">D</tspan>(x<tspan font-size="6.5" dy="2">2</tspan><tspan dy="-2">)=3</tspan></text><text x="96" y="473.4" font-size="9.5" fill="#888" text-anchor="end" stroke="#888" stroke-width="0.25"><tspan font-style="italic">D</tspan>(x<tspan font-size="6.5" dy="2">3</tspan><tspan dy="-2">)=2</tspan></text><text x="96" y="491.7" font-size="9.5" fill="#888" text-anchor="end" stroke="#888" stroke-width="0.25"><tspan font-style="italic">D</tspan>(x<tspan font-size="6.5" dy="2">4</tspan><tspan dy="-2">)=2</tspan></text><text x="111.4" y="506.6" font-size="11" fill="#1a1a1a" font-family="Liberation Serif" font-weight="bold" stroke="#1a1a1a" stroke-width="0.25">x<tspan font-size="7.2" dy="-4.4" font-style="italic" font-weight="normal">T</tspan><tspan font-size="11" dy="4.4" dx="0.6" font-style="italic" font-weight="normal">Q</tspan><tspan dx="0.3">x</tspan></text><text x="160.4" y="446.3" font-size="10.5" fill="#4a4a4a" font-family="Liberation Serif" stroke="#4a4a4a" stroke-width="0.25">(<tspan font-style="italic">x</tspan><tspan font-size="7" dy="2.3">1</tspan><tspan dy="-2.3">, </tspan><tspan font-style="italic">x</tspan><tspan font-size="7" dy="2.3">2</tspan><tspan dy="-2.3">, </tspan><tspan font-style="italic">x</tspan><tspan font-size="7" dy="2.3">3</tspan><tspan dy="-2.3">, </tspan><tspan font-style="italic">x</tspan><tspan font-size="7" dy="2.3">4</tspan><tspan dy="-2.3">)</tspan></text><text x="160.4" y="485.3" font-size="10.5" fill="#4a4a4a" font-family="Liberation Serif" stroke="#4a4a4a" stroke-width="0.25">(<tspan font-style="italic">x</tspan><tspan font-size="7" dy="2.3">1</tspan><tspan dy="-2.3">, </tspan><tspan font-style="italic">x</tspan><tspan font-size="7" dy="2.3">3</tspan><tspan dy="-2.3">, </tspan><tspan font-style="italic">x</tspan><tspan font-size="7" dy="2.3">4</tspan><tspan dy="-2.3">, </tspan><tspan font-style="italic">x</tspan><tspan font-size="7" dy="2.3">2</tspan><tspan dy="-2.3">)</tspan></text><path d="M181.3 452V470" stroke="#222" stroke-width="1"/><path d="M178.8 468L183.8 468L181.3 473.5Z" fill="#222"/><text x="186.4" y="465" font-size="9.6" fill="#333" text-anchor="start"   stroke="#333" stroke-width="0.25">Sort</text><path d="M281.68 448.89L311.32 435.61" stroke="#d9414f" stroke-width="1"/><path d="M281.66 453.76L311.34 467.34" stroke="#999" stroke-width="0.8" stroke-dasharray="2.2 1.6"/><path d="M280.66 455.27L312.34 484.13" stroke="#999" stroke-width="0.8" stroke-dasharray="2.2 1.6"/><path d="M281.66 467.34L311.34 453.76" stroke="#999" stroke-width="0.8" stroke-dasharray="2.2 1.6"/><path d="M281.67 472.23L311.33 485.67" stroke="#999" stroke-width="0.8" stroke-dasharray="2.2 1.6"/><path d="M280.66 484.13L312.34 455.27" stroke="#999" stroke-width="0.8" stroke-dasharray="2.2 1.6"/><path d="M281.67 485.67L311.33 472.23" stroke="#999" stroke-width="0.8" stroke-dasharray="2.2 1.6"/><circle cx="276.3" cy="433.2" r="5.6000000000000005" fill="none" stroke="#666" stroke-width="0.8" stroke-dasharray="1.7 1.3"/><circle cx="276.3" cy="451.3" r="5.6000000000000005" fill="#b9dcaa" stroke="#5e8a52" stroke-width="1.1"/><path d="M276.3 446.4V456" stroke="#2f5a2a" stroke-width="1"/><path d="M274.6 451.6L278 451.6L276.3 455.3Z" fill="#2f5a2a"/><circle cx="276.3" cy="469.8" r="5.6000000000000005" fill="#f6d94e" stroke="#a88d2a" stroke-width="1.1"/><path d="M276.3 464.9V474.5" stroke="#4a3a10" stroke-width="1"/><path d="M274.6 470.1L278 470.1L276.3 473.8Z" fill="#4a3a10"/><circle cx="276.3" cy="488.1" r="5.6000000000000005" fill="#f2aa88" stroke="#b06a4a" stroke-width="1.1"/><path d="M276.3 483.2V492.8" stroke="#5a2a18" stroke-width="1"/><path d="M274.6 488.4L278 488.4L276.3 492.1Z" fill="#5a2a18"/><circle cx="316.7" cy="433.2" r="5.6000000000000005" fill="#a3b6e4" stroke="#56689c" stroke-width="1.1"/><path d="M316.7 428.3V437.9" stroke="#2c3f80" stroke-width="1"/><path d="M315 433.5L318.4 433.5L316.7 437.2Z" fill="#2c3f80"/><circle cx="316.7" cy="451.3" r="5.6000000000000005" fill="#b9dcaa" stroke="#5e8a52" stroke-width="1.1"/><path d="M316.7 446.4V456" stroke="#2f5a2a" stroke-width="1"/><path d="M315 451.6L318.4 451.6L316.7 455.3Z" fill="#2f5a2a"/><circle cx="316.7" cy="469.8" r="5.6000000000000005" fill="#f6d94e" stroke="#a88d2a" stroke-width="1.1"/><path d="M316.7 464.9V474.5" stroke="#4a3a10" stroke-width="1"/><path d="M315 470.1L318.4 470.1L316.7 473.8Z" fill="#4a3a10"/><circle cx="316.7" cy="488.1" r="5.6000000000000005" fill="#f2aa88" stroke="#b06a4a" stroke-width="1.1"/><path d="M316.7 483.2V492.8" stroke="#5a2a18" stroke-width="1"/><path d="M315 488.4L318.4 488.4L316.7 492.1Z" fill="#5a2a18"/><path d="M382.9 448.93L413.3 435.57" stroke="#d9414f" stroke-width="1"/><path d="M382.88 453.72L413.32 467.38" stroke="#d9414f" stroke-width="1"/><path d="M382.89 485.7L413.31 472.2" stroke="#d9414f" stroke-width="1"/><path d="M381.9 455.23L414.3 484.17" stroke="#999" stroke-width="0.8" stroke-dasharray="2.2 1.6"/><path d="M381.9 484.17L414.3 455.23" stroke="#999" stroke-width="0.8" stroke-dasharray="2.2 1.6"/><circle cx="377.5" cy="433.2" r="5.6000000000000005" fill="none" stroke="#666" stroke-width="0.8" stroke-dasharray="1.7 1.3"/><circle cx="377.5" cy="451.3" r="5.6000000000000005" fill="#b9dcaa" stroke="#5e8a52" stroke-width="1.1"/><path d="M377.5 446.4V456" stroke="#2f5a2a" stroke-width="1"/><path d="M375.8 451.6L379.2 451.6L377.5 455.3Z" fill="#2f5a2a"/><circle cx="377.5" cy="469.8" r="5.6000000000000005" fill="none" stroke="#666" stroke-width="0.8" stroke-dasharray="1.7 1.3"/><circle cx="377.5" cy="488.1" r="5.6000000000000005" fill="#f2aa88" stroke="#b06a4a" stroke-width="1.1"/><path d="M377.5 483.2V492.8" stroke="#5a2a18" stroke-width="1"/><path d="M375.8 488.4L379.2 488.4L377.5 492.1Z" fill="#5a2a18"/><circle cx="418.7" cy="433.2" r="5.6000000000000005" fill="#a3b6e4" stroke="#56689c" stroke-width="1.1"/><path d="M418.7 428.3V437.9" stroke="#2c3f80" stroke-width="1"/><path d="M417 433.5L420.4 433.5L418.7 437.2Z" fill="#2c3f80"/><circle cx="418.7" cy="451.3" r="5.6000000000000005" fill="#b9dcaa" stroke="#5e8a52" stroke-width="1.1"/><path d="M418.7 446.4V456" stroke="#2f5a2a" stroke-width="1"/><path d="M417 451.6L420.4 451.6L418.7 455.3Z" fill="#2f5a2a"/><circle cx="418.7" cy="469.8" r="5.6000000000000005" fill="#f6d94e" stroke="#a88d2a" stroke-width="1.1"/><path d="M418.7 464.9V474.5" stroke="#4a3a10" stroke-width="1"/><path d="M417 470.1L420.4 470.1L418.7 473.8Z" fill="#4a3a10"/><circle cx="418.7" cy="488.1" r="5.6000000000000005" fill="#f2aa88" stroke="#b06a4a" stroke-width="1.1"/><path d="M418.7 483.2V492.8" stroke="#5a2a18" stroke-width="1"/><path d="M417 488.4L420.4 488.4L418.7 492.1Z" fill="#5a2a18"/><path d="M491.69 448.9L521.61 435.6" stroke="#d9414f" stroke-width="1"/><path d="M491.67 453.74L521.63 467.36" stroke="#d9414f" stroke-width="1"/><path d="M490.68 484.14L522.62 455.26" stroke="#d9414f" stroke-width="1"/><path d="M491.68 485.68L521.62 472.22" stroke="#d9414f" stroke-width="1"/><circle cx="486.3" cy="433.2" r="5.6000000000000005" fill="none" stroke="#666" stroke-width="0.8" stroke-dasharray="1.7 1.3"/><circle cx="486.3" cy="451.3" r="5.6000000000000005" fill="#b9dcaa" stroke="#5e8a52" stroke-width="1.1"/><path d="M486.3 446.4V456" stroke="#2f5a2a" stroke-width="1"/><path d="M484.6 451.6L488 451.6L486.3 455.3Z" fill="#2f5a2a"/><circle cx="486.3" cy="469.8" r="5.6000000000000005" fill="none" stroke="#666" stroke-width="0.8" stroke-dasharray="1.7 1.3"/><circle cx="486.3" cy="488.1" r="5.6000000000000005" fill="#f2aa88" stroke="#b06a4a" stroke-width="1.1"/><path d="M486.3 483.2V492.8" stroke="#5a2a18" stroke-width="1"/><path d="M484.6 488.4L488 488.4L486.3 492.1Z" fill="#5a2a18"/><circle cx="527" cy="433.2" r="5.6000000000000005" fill="#a3b6e4" stroke="#56689c" stroke-width="1.1"/><path d="M527 428.3V437.9" stroke="#2c3f80" stroke-width="1"/><path d="M525.3 433.5L528.7 433.5L527 437.2Z" fill="#2c3f80"/><circle cx="527" cy="451.3" r="5.6000000000000005" fill="#b9dcaa" stroke="#5e8a52" stroke-width="1.1"/><path d="M527 446.4V456" stroke="#2f5a2a" stroke-width="1"/><path d="M525.3 451.6L528.7 451.6L527 455.3Z" fill="#2f5a2a"/><circle cx="527" cy="469.8" r="5.6000000000000005" fill="#f6d94e" stroke="#a88d2a" stroke-width="1.1"/><path d="M527 464.9V474.5" stroke="#4a3a10" stroke-width="1"/><path d="M525.3 470.1L528.7 470.1L527 473.8Z" fill="#4a3a10"/><circle cx="527" cy="488.1" r="5.6000000000000005" fill="none" stroke="#666" stroke-width="0.8" stroke-dasharray="1.7 1.3"/><path d="M635.38 448.87L664.62 435.63" stroke="#d9414f" stroke-width="1"/><path d="M635.35 453.78L664.65 467.32" stroke="#d9414f" stroke-width="1"/><path d="M634.34 484.11L665.66 455.29" stroke="#d9414f" stroke-width="1"/><path d="M635.37 485.65L664.63 472.25" stroke="#d9414f" stroke-width="1"/><circle cx="630" cy="451.3" r="5.6000000000000005" fill="#b9dcaa" stroke="#5e8a52" stroke-width="1.1"/><path d="M630 446.4V456" stroke="#2f5a2a" stroke-width="1"/><path d="M628.3 451.6L631.7 451.6L630 455.3Z" fill="#2f5a2a"/><circle cx="630" cy="488.1" r="5.6000000000000005" fill="#f2aa88" stroke="#b06a4a" stroke-width="1.1"/><path d="M630 483.2V492.8" stroke="#5a2a18" stroke-width="1"/><path d="M628.3 488.4L631.7 488.4L630 492.1Z" fill="#5a2a18"/><circle cx="670" cy="433.2" r="5.6000000000000005" fill="#a3b6e4" stroke="#56689c" stroke-width="1.1"/><path d="M670 428.3V437.9" stroke="#2c3f80" stroke-width="1"/><path d="M668.3 433.5L671.7 433.5L670 437.2Z" fill="#2c3f80"/><circle cx="670" cy="451.3" r="5.6000000000000005" fill="#b9dcaa" stroke="#5e8a52" stroke-width="1.1"/><path d="M670 446.4V456" stroke="#2f5a2a" stroke-width="1"/><path d="M668.3 451.6L671.7 451.6L670 455.3Z" fill="#2f5a2a"/><circle cx="670" cy="469.8" r="5.6000000000000005" fill="#f6d94e" stroke="#a88d2a" stroke-width="1.1"/><path d="M670 464.9V474.5" stroke="#4a3a10" stroke-width="1"/><path d="M668.3 470.1L671.7 470.1L670 473.8Z" fill="#4a3a10"/><text x="696.2" y="459.3" font-size="11.5" fill="#1a1a1a" font-family="Liberation Serif" font-weight="bold" stroke="#1a1a1a" stroke-width="0.25">x<tspan font-size="8" dy="2.6">h</tspan><tspan font-size="7.5" dy="-8" font-style="italic" font-weight="normal">T</tspan><tspan font-size="11.8" dy="5.4" dx="0.8" font-style="italic" font-weight="normal">Q′</tspan><tspan dx="0.3">x</tspan><tspan font-size="8" dy="2.6">v</tspan></text><text x="60" y="560.3" font-size="10.5" fill="#222" font-family="Liberation Serif" font-weight="bold" stroke="#222" stroke-width="0.25">x</text><text x="67.8" y="560.3" font-size="10.5" fill="#222" text-anchor="start" font-family="Liberation Serif"  stroke="#222" stroke-width="0.25">=</text><path d="M83.2 536.5Q73.2 557.75 83.2 579L83.55 578.8Q75.75 557.75 83.55 536.7Z" fill="#222"/><path d="M96 536.5Q106 557.75 96 579L95.65 578.8Q103.45 557.75 95.65 536.7Z" fill="#222"/><text x="85" y="541.2" font-size="10.5" fill="#222" font-family="Liberation Serif" font-style="italic" stroke="#222" stroke-width="0.25">x</text><text x="89.86" y="543.8" font-size="7.56" fill="#222" font-family="Liberation Serif"  stroke="#222" stroke-width="0.25">1</text><text x="85" y="552.6" font-size="10.5" fill="#222" font-family="Liberation Serif" font-style="italic" stroke="#222" stroke-width="0.25">x</text><text x="89.86" y="555.2" font-size="7.56" fill="#222" font-family="Liberation Serif"  stroke="#222" stroke-width="0.25">2</text><text x="85" y="564" font-size="10.5" fill="#222" font-family="Liberation Serif" font-style="italic" stroke="#222" stroke-width="0.25">x</text><text x="89.86" y="566.6" font-size="7.56" fill="#222" font-family="Liberation Serif"  stroke="#222" stroke-width="0.25">3</text><text x="85" y="575.5" font-size="10.5" fill="#222" font-family="Liberation Serif" font-style="italic" stroke="#222" stroke-width="0.25">x</text><text x="89.86" y="578.1" font-size="7.56" fill="#222" font-family="Liberation Serif"  stroke="#222" stroke-width="0.25">4</text><text x="111.5" y="560.3" font-size="10.5" fill="#222" font-family="Liberation Serif" stroke="#222" stroke-width="0.25"><tspan font-style="italic">Q</tspan></text><text x="120.8" y="560.3" font-size="10.5" fill="#222" text-anchor="start" font-family="Liberation Serif"  stroke="#222" stroke-width="0.25">=</text><text x="151.25" y="531.3" font-size="10.5" fill="#aaa" font-family="Liberation Serif" font-style="italic" stroke="#aaa" stroke-width="0.25">x</text><text x="156.11" y="533.9" font-size="7.56" fill="#aaa" font-family="Liberation Serif"  stroke="#aaa" stroke-width="0.25">1</text><text x="167" y="531.3" font-size="10.5" fill="#aaa" font-family="Liberation Serif" font-style="italic" stroke="#aaa" stroke-width="0.25">x</text><text x="171.86" y="533.9" font-size="7.56" fill="#aaa" font-family="Liberation Serif"  stroke="#aaa" stroke-width="0.25">2</text><text x="183.9" y="531.3" font-size="10.5" fill="#aaa" font-family="Liberation Serif" font-style="italic" stroke="#aaa" stroke-width="0.25">x</text><text x="188.76" y="533.9" font-size="7.56" fill="#aaa" font-family="Liberation Serif"  stroke="#aaa" stroke-width="0.25">3</text><text x="200.3" y="531.3" font-size="10.5" fill="#aaa" font-family="Liberation Serif" font-style="italic" stroke="#aaa" stroke-width="0.25">x</text><text x="205.16" y="533.9" font-size="7.56" fill="#aaa" font-family="Liberation Serif"  stroke="#aaa" stroke-width="0.25">4</text><text x="132.7" y="543.2" font-size="10.5" fill="#aaa" font-family="Liberation Serif" font-style="italic" stroke="#aaa" stroke-width="0.25">x</text><text x="137.56" y="545.8" font-size="7.56" fill="#aaa" font-family="Liberation Serif"  stroke="#aaa" stroke-width="0.25">1</text><text x="132.7" y="554.9" font-size="10.5" fill="#aaa" font-family="Liberation Serif" font-style="italic" stroke="#aaa" stroke-width="0.25">x</text><text x="137.56" y="557.5" font-size="7.56" fill="#aaa" font-family="Liberation Serif"  stroke="#aaa" stroke-width="0.25">2</text><text x="132.7" y="566.3" font-size="10.5" fill="#aaa" font-family="Liberation Serif" font-style="italic" stroke="#aaa" stroke-width="0.25">x</text><text x="137.56" y="568.9" font-size="7.56" fill="#aaa" font-family="Liberation Serif"  stroke="#aaa" stroke-width="0.25">3</text><text x="132.7" y="577.7" font-size="10.5" fill="#aaa" font-family="Liberation Serif" font-style="italic" stroke="#aaa" stroke-width="0.25">x</text><text x="137.56" y="580.3" font-size="7.56" fill="#aaa" font-family="Liberation Serif"  stroke="#aaa" stroke-width="0.25">4</text><path d="M148.5 536.6Q139.5 557.7 148.5 578.8L148.85 578.6Q142.05 557.7 148.85 536.8Z" fill="#222"/><path d="M210.2 536.6Q219.2 557.7 210.2 578.8L209.85 578.6Q216.65 557.7 209.85 536.8Z" fill="#222"/><text x="154.1" y="543.7" font-size="10" fill="#222" text-anchor="middle" font-family="Liberation Serif"  stroke="#222" stroke-width="0.25">0</text><path d="M168.9 538.4L173.7 543M173.7 538.4L168.9 543" stroke="#222" stroke-width="0.85"/><text x="188" y="543.7" font-size="10" fill="#222" text-anchor="middle" font-family="Liberation Serif"  stroke="#222" stroke-width="0.25">0</text><text x="204.6" y="543.7" font-size="10" fill="#222" text-anchor="middle" font-family="Liberation Serif"  stroke="#222" stroke-width="0.25">0</text><path d="M151.7 550.1L156.5 554.7M156.5 550.1L151.7 554.7" stroke="#222" stroke-width="0.85"/><text x="171.3" y="555.4" font-size="10" fill="#222" text-anchor="middle" font-family="Liberation Serif"  stroke="#222" stroke-width="0.25">0</text><path d="M185.6 550.1L190.4 554.7M190.4 550.1L185.6 554.7" stroke="#222" stroke-width="0.85"/><path d="M202.2 550.1L207 554.7M207 550.1L202.2 554.7" stroke="#222" stroke-width="0.85"/><text x="154.1" y="566.8" font-size="10" fill="#222" text-anchor="middle" font-family="Liberation Serif"  stroke="#222" stroke-width="0.25">0</text><path d="M168.9 561.5L173.7 566.1M173.7 561.5L168.9 566.1" stroke="#222" stroke-width="0.85"/><text x="188" y="566.8" font-size="10" fill="#222" text-anchor="middle" font-family="Liberation Serif"  stroke="#222" stroke-width="0.25">0</text><path d="M202.2 561.5L207 566.1M207 561.5L202.2 566.1" stroke="#222" stroke-width="0.85"/><text x="154.1" y="578.2" font-size="10" fill="#222" text-anchor="middle" font-family="Liberation Serif"  stroke="#222" stroke-width="0.25">0</text><path d="M168.9 572.9L173.7 577.5M173.7 572.9L168.9 577.5" stroke="#222" stroke-width="0.85"/><path d="M185.6 572.9L190.4 577.5M190.4 572.9L185.6 577.5" stroke="#222" stroke-width="0.85"/><text x="204.6" y="578.2" font-size="10" fill="#222" text-anchor="middle" font-family="Liberation Serif"  stroke="#222" stroke-width="0.25">0</text><path d="M267 534.6Q258 556 267 577.4L267.35 577.2Q260.55 556 267.35 534.8Z" fill="#222"/><path d="M326 534.6Q335 556 326 577.4L325.65 577.2Q332.45 556 325.65 534.8Z" fill="#222"/><text x="270.75" y="542.3" font-size="10" fill="#222" text-anchor="middle" font-family="Liberation Serif"  stroke="#222" stroke-width="0.25">0</text><text x="287" y="542.3" font-size="10" fill="#6a2a3c" text-anchor="middle" font-family="Liberation Serif"  stroke="#6a2a3c" stroke-width="0.25">0</text><path d="M283.4 535.7L290.4 542.1" stroke="#c0394a" stroke-width="1"/><text x="303.75" y="542.3" font-size="10" fill="#222" text-anchor="middle" font-family="Liberation Serif"  stroke="#222" stroke-width="0.25">0</text><text x="321.25" y="542.3" font-size="10" fill="#222" text-anchor="middle" font-family="Liberation Serif"  stroke="#222" stroke-width="0.25">0</text><text x="270.75" y="553.7" font-size="9.5" fill="#c8283c" text-anchor="middle" font-family="Liberation Serif"  stroke="#c8283c" stroke-width="0.25">Δ</text><text x="287" y="553.7" font-size="10" fill="#222" text-anchor="middle" font-family="Liberation Serif"  stroke="#222" stroke-width="0.25">0</text><path d="M301.35 548.4L306.15 553M306.15 548.4L301.35 553" stroke="#222" stroke-width="0.85"/><path d="M318.85 548.4L323.65 553M323.65 548.4L318.85 553" stroke="#222" stroke-width="0.85"/><text x="270.75" y="565" font-size="10" fill="#222" text-anchor="middle" font-family="Liberation Serif"  stroke="#222" stroke-width="0.25">0</text><path d="M284.6 559.7L289.4 564.3M289.4 559.7L284.6 564.3" stroke="#222" stroke-width="0.85"/><text x="303.75" y="565" font-size="10" fill="#222" text-anchor="middle" font-family="Liberation Serif"  stroke="#222" stroke-width="0.25">0</text><path d="M318.85 559.7L323.65 564.3M323.65 559.7L318.85 564.3" stroke="#222" stroke-width="0.85"/><text x="270.75" y="576.4" font-size="10" fill="#222" text-anchor="middle" font-family="Liberation Serif"  stroke="#222" stroke-width="0.25">0</text><path d="M284.6 571.1L289.4 575.7M289.4 571.1L284.6 575.7" stroke="#222" stroke-width="0.85"/><path d="M301.35 571.1L306.15 575.7M306.15 571.1L301.35 575.7" stroke="#222" stroke-width="0.85"/><text x="321.25" y="576.4" font-size="10" fill="#222" text-anchor="middle" font-family="Liberation Serif"  stroke="#222" stroke-width="0.25">0</text><path d="M368.8 534.6Q359.8 556 368.8 577.4L369.15 577.2Q362.35 556 369.15 534.8Z" fill="#222"/><path d="M427.2 534.6Q436.2 556 427.2 577.4L426.85 577.2Q433.65 556 426.85 534.8Z" fill="#222"/><text x="373.3" y="542.3" font-size="10" fill="#222" text-anchor="middle" font-family="Liberation Serif"  stroke="#222" stroke-width="0.25">0</text><text x="389.4" y="542.3" font-size="10" fill="#222" text-anchor="middle" font-family="Liberation Serif"  stroke="#222" stroke-width="0.25">0</text><text x="405.6" y="542.3" font-size="10" fill="#222" text-anchor="middle" font-family="Liberation Serif"  stroke="#222" stroke-width="0.25">0</text><text x="422.2" y="542.3" font-size="10" fill="#222" text-anchor="middle" font-family="Liberation Serif"  stroke="#222" stroke-width="0.25">0</text><text x="373.3" y="553.7" font-size="9.5" fill="#c8283c" text-anchor="middle" font-family="Liberation Serif"  stroke="#c8283c" stroke-width="0.25">Δ</text><text x="389.4" y="553.7" font-size="10" fill="#222" text-anchor="middle" font-family="Liberation Serif"  stroke="#222" stroke-width="0.25">0</text><text x="405.6" y="553.7" font-size="9.5" fill="#c8283c" text-anchor="middle" font-family="Liberation Serif"  stroke="#c8283c" stroke-width="0.25">Δ</text><path d="M419.8 548.4L424.6 553M424.6 548.4L419.8 553" stroke="#222" stroke-width="0.85"/><text x="373.3" y="565" font-size="10" fill="#222" text-anchor="middle" font-family="Liberation Serif"  stroke="#222" stroke-width="0.25">0</text><text x="389.4" y="565" font-size="10" fill="#6a2a3c" text-anchor="middle" font-family="Liberation Serif"  stroke="#6a2a3c" stroke-width="0.25">0</text><path d="M385.8 558.4L392.8 564.8" stroke="#c0394a" stroke-width="1"/><text x="405.6" y="565" font-size="10" fill="#222" text-anchor="middle" font-family="Liberation Serif"  stroke="#222" stroke-width="0.25">0</text><text x="422.2" y="565" font-size="10" fill="#6a2a3c" text-anchor="middle" font-family="Liberation Serif"  stroke="#6a2a3c" stroke-width="0.25">0</text><path d="M418.6 558.4L425.6 564.8" stroke="#c0394a" stroke-width="1"/><text x="373.3" y="576.4" font-size="10" fill="#222" text-anchor="middle" font-family="Liberation Serif"  stroke="#222" stroke-width="0.25">0</text><path d="M387 571.1L391.8 575.7M391.8 571.1L387 575.7" stroke="#222" stroke-width="0.85"/><text x="405.6" y="576.4" font-size="9.5" fill="#c8283c" text-anchor="middle" font-family="Liberation Serif"  stroke="#c8283c" stroke-width="0.25">Δ</text><text x="422.2" y="576.4" font-size="10" fill="#222" text-anchor="middle" font-family="Liberation Serif"  stroke="#222" stroke-width="0.25">0</text><path d="M480.8 534.8Q471.8 556 480.8 577.2L481.15 577Q474.35 556 481.15 535Z" fill="#222"/><path d="M536.5 534.8Q545.5 556 536.5 577.2L536.15 577Q542.95 556 536.15 535Z" fill="#222"/><text x="485.1" y="542.3" font-size="10" fill="#222" text-anchor="middle" font-family="Liberation Serif"  stroke="#222" stroke-width="0.25">0</text><text x="500.8" y="542.3" font-size="10" fill="#222" text-anchor="middle" font-family="Liberation Serif"  stroke="#222" stroke-width="0.25">0</text><text x="516.6" y="542.3" font-size="10" fill="#222" text-anchor="middle" font-family="Liberation Serif"  stroke="#222" stroke-width="0.25">0</text><text x="531.9" y="542.3" font-size="10" fill="#222" text-anchor="middle" font-family="Liberation Serif"  stroke="#222" stroke-width="0.25">0</text><text x="485.1" y="553.7" font-size="9.5" fill="#c8283c" text-anchor="middle" font-family="Liberation Serif"  stroke="#c8283c" stroke-width="0.25">Δ</text><text x="500.8" y="553.7" font-size="10" fill="#222" text-anchor="middle" font-family="Liberation Serif"  stroke="#222" stroke-width="0.25">0</text><text x="516.6" y="553.7" font-size="9.5" fill="#c8283c" text-anchor="middle" font-family="Liberation Serif"  stroke="#c8283c" stroke-width="0.25">Δ</text><text x="531.9" y="553.7" font-size="10" fill="#6a2a3c" text-anchor="middle" font-family="Liberation Serif"  stroke="#6a2a3c" stroke-width="0.25">0</text><path d="M528.3 547.1L535.3 553.5" stroke="#c0394a" stroke-width="1"/><text x="485.1" y="565" font-size="10" fill="#222" text-anchor="middle" font-family="Liberation Serif"  stroke="#222" stroke-width="0.25">0</text><text x="500.8" y="565" font-size="10" fill="#222" text-anchor="middle" font-family="Liberation Serif"  stroke="#222" stroke-width="0.25">0</text><text x="516.6" y="565" font-size="10" fill="#222" text-anchor="middle" font-family="Liberation Serif"  stroke="#222" stroke-width="0.25">0</text><text x="531.9" y="565" font-size="10" fill="#222" text-anchor="middle" font-family="Liberation Serif"  stroke="#222" stroke-width="0.25">0</text><text x="485.1" y="576.4" font-size="10" fill="#222" text-anchor="middle" font-family="Liberation Serif"  stroke="#222" stroke-width="0.25">0</text><text x="500.8" y="576.4" font-size="9.5" fill="#c8283c" text-anchor="middle" font-family="Liberation Serif"  stroke="#c8283c" stroke-width="0.25">Δ</text><text x="516.6" y="576.4" font-size="9.5" fill="#c8283c" text-anchor="middle" font-family="Liberation Serif"  stroke="#c8283c" stroke-width="0.25">Δ</text><text x="531.9" y="576.4" font-size="10" fill="#222" text-anchor="middle" font-family="Liberation Serif"  stroke="#222" stroke-width="0.25">0</text><path d="M482.9 538.3H532.3M482.9 561H532.3M532.3 538.3V576.5" stroke="#777" stroke-width="0.8"/><text x="573.9" y="559.3" font-size="10.5" fill="#222" font-family="Liberation Serif" stroke="#222" stroke-width="0.25"><tspan font-style="italic">Q′</tspan> =</text><text x="619.8" y="542.3" font-size="10.5" fill="#aaa" font-family="Liberation Serif" font-style="italic" stroke="#aaa" stroke-width="0.25">x</text><text x="624.66" y="544.9" font-size="7.56" fill="#aaa" font-family="Liberation Serif"  stroke="#aaa" stroke-width="0.25">1</text><text x="635.1" y="542.3" font-size="10.5" fill="#aaa" font-family="Liberation Serif" font-style="italic" stroke="#aaa" stroke-width="0.25">x</text><text x="639.96" y="544.9" font-size="7.56" fill="#aaa" font-family="Liberation Serif"  stroke="#aaa" stroke-width="0.25">2</text><text x="651" y="542.3" font-size="10.5" fill="#aaa" font-family="Liberation Serif" font-style="italic" stroke="#aaa" stroke-width="0.25">x</text><text x="655.86" y="544.9" font-size="7.56" fill="#aaa" font-family="Liberation Serif"  stroke="#aaa" stroke-width="0.25">3</text><text x="605" y="554" font-size="10.5" fill="#aaa" font-family="Liberation Serif" font-style="italic" stroke="#aaa" stroke-width="0.25">x</text><text x="609.86" y="556.6" font-size="7.56" fill="#aaa" font-family="Liberation Serif"  stroke="#aaa" stroke-width="0.25">2</text><text x="605" y="565" font-size="10.5" fill="#aaa" font-family="Liberation Serif" font-style="italic" stroke="#aaa" stroke-width="0.25">x</text><text x="609.86" y="567.6" font-size="7.56" fill="#aaa" font-family="Liberation Serif"  stroke="#aaa" stroke-width="0.25">4</text><path d="M621.5 547Q612.5 557.25 621.5 567.5L621.85 567.3Q615.05 557.25 621.85 547.2Z" fill="#222"/><path d="M657.2 547Q666.2 557.25 657.2 567.5L656.85 567.3Q663.65 557.25 656.85 547.2Z" fill="#222"/><text x="623.4" y="554" font-size="9.5" fill="#c8283c" text-anchor="middle" font-family="Liberation Serif"  stroke="#c8283c" stroke-width="0.25">Δ</text><text x="639.4" y="554" font-size="10" fill="#222" text-anchor="middle" font-family="Liberation Serif"  stroke="#222" stroke-width="0.25">0</text><text x="655.3" y="554" font-size="9.5" fill="#c8283c" text-anchor="middle" font-family="Liberation Serif"  stroke="#c8283c" stroke-width="0.25">Δ</text><text x="623.4" y="565" font-size="10" fill="#222" text-anchor="middle" font-family="Liberation Serif"  stroke="#222" stroke-width="0.25">0</text><text x="639.4" y="565" font-size="9.5" fill="#c8283c" text-anchor="middle" font-family="Liberation Serif"  stroke="#c8283c" stroke-width="0.25">Δ</text><text x="655.3" y="565" font-size="9.5" fill="#c8283c" text-anchor="middle" font-family="Liberation Serif"  stroke="#c8283c" stroke-width="0.25">Δ</text><text x="685" y="538" font-size="10.5" fill="#222" font-family="Liberation Serif" font-weight="bold" stroke="#222" stroke-width="0.25">x<tspan font-size="7" dy="2.3">h</tspan></text><text x="696" y="538" font-size="10.5" fill="#222" text-anchor="start" font-family="Liberation Serif"  stroke="#222" stroke-width="0.25">=</text><path d="M713.6 525.5Q707.2 536.5 713.6 547.5L713.95 547.3Q709.75 536.5 713.95 525.7Z" fill="#222"/><path d="M722.2 525.5Q728.6 536.5 722.2 547.5L721.85 547.3Q726.05 536.5 721.85 525.7Z" fill="#222"/><text x="713" y="532.75" font-size="10.5" fill="#222" font-family="Liberation Serif" font-style="italic" stroke="#222" stroke-width="0.25">x</text><text x="717.86" y="535.35" font-size="7.56" fill="#222" font-family="Liberation Serif"  stroke="#222" stroke-width="0.25">2</text><text x="713" y="543.4" font-size="10.5" fill="#222" font-family="Liberation Serif" font-style="italic" stroke="#222" stroke-width="0.25">x</text><text x="717.86" y="546" font-size="7.56" fill="#222" font-family="Liberation Serif"  stroke="#222" stroke-width="0.25">4</text><text x="684.5" y="567.8" font-size="10.5" fill="#222" font-family="Liberation Serif" font-weight="bold" stroke="#222" stroke-width="0.25">x<tspan font-size="7" dy="2.3">v</tspan></text><text x="696" y="567.8" font-size="10.5" fill="#222" text-anchor="start" font-family="Liberation Serif"  stroke="#222" stroke-width="0.25">=</text><path d="M714 550.5Q706.8 566.5 714 582.5L714.35 582.3Q709.35 566.5 714.35 550.7Z" fill="#222"/><path d="M721.8 550.5Q729 566.5 721.8 582.5L721.45 582.3Q726.45 566.5 721.45 550.7Z" fill="#222"/><text x="713" y="557.2" font-size="10.5" fill="#222" font-family="Liberation Serif" font-style="italic" stroke="#222" stroke-width="0.25">x</text><text x="717.86" y="559.8" font-size="7.56" fill="#222" font-family="Liberation Serif"  stroke="#222" stroke-width="0.25">1</text><text x="713" y="568.4" font-size="10.5" fill="#222" font-family="Liberation Serif" font-style="italic" stroke="#222" stroke-width="0.25">x</text><text x="717.86" y="571" font-size="7.56" fill="#222" font-family="Liberation Serif"  stroke="#222" stroke-width="0.25">2</text><text x="713" y="579" font-size="10.5" fill="#222" font-family="Liberation Serif" font-style="italic" stroke="#222" stroke-width="0.25">x</text><text x="717.86" y="581.6" font-size="7.56" fill="#222" font-family="Liberation Serif"  stroke="#222" stroke-width="0.25">3</text>
</svg></body></html>
